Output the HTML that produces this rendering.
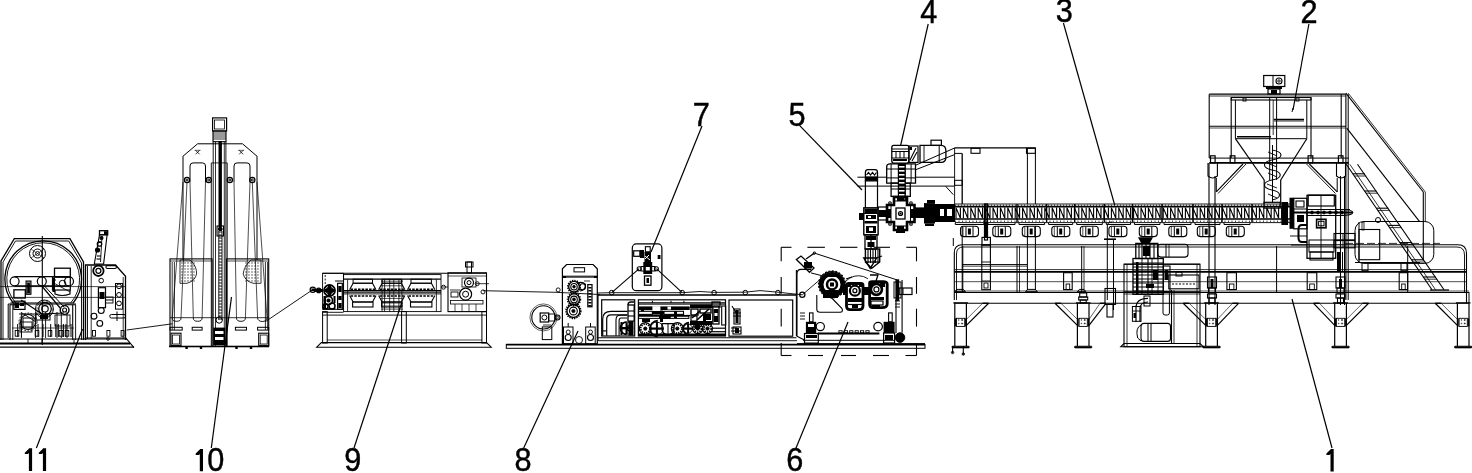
<!DOCTYPE html>
<html><head><meta charset="utf-8"><style>
html,body{margin:0;padding:0;background:#fff;}
body{width:1472px;height:473px;overflow:hidden;}
svg{display:block;filter:grayscale(1);}
text{font-family:"Liberation Sans",sans-serif;fill:#000;}
</style></head><body>
<svg width="1472" height="473" viewBox="0 0 1472 473" stroke-linecap="butt">
<rect width="1472" height="473" fill="#fff"/>
<path d="M28.90,448.2 L32.10,448.2 L32.10,470.9 L28.90,470.9 Z M29.40,448.2 L32.10,448.2 L32.10,451.0 L27.70,454.09999999999997 L24.80,454.09999999999997 L24.80,452.8 Z" fill="#000"/>
<path d="M42.90,448.2 L46.10,448.2 L46.10,470.9 L42.90,470.9 Z M43.40,448.2 L46.10,448.2 L46.10,451.0 L41.70,454.09999999999997 L38.80,454.09999999999997 L38.80,452.8 Z" fill="#000"/>
<path d="M199.80,449 L203.00,449 L203.00,471.2 L199.80,471.2 Z M200.30,449 L203.00,449 L203.00,451.8 L198.60,454.9 L195.70,454.9 L195.70,453.6 Z" fill="#000"/>
<text x="0" y="0" transform="translate(207.15,471.2) scale(0.95,1)" font-size="32.3" stroke="#000" stroke-width="0.45">0</text>
<path d="M1330.50,449 L1333.70,449 L1333.70,471.4 L1330.50,471.4 Z M1331.00,449 L1333.70,449 L1333.70,451.8 L1329.30,454.9 L1326.40,454.9 L1326.40,453.6 Z" fill="#000"/>
<text x="0" y="0" transform="translate(344.16,471.2) scale(0.95,1)" font-size="32.3" stroke="#000" stroke-width="0.45">9</text>
<text x="0" y="0" transform="translate(514.46,471.4) scale(0.95,1)" font-size="32.3" stroke="#000" stroke-width="0.45">8</text>
<text x="0" y="0" transform="translate(786.37,471.3) scale(0.95,1)" font-size="32.3" stroke="#000" stroke-width="0.45">6</text>
<text x="0" y="0" transform="translate(920.33,23.0) scale(0.95,1)" font-size="32.3" stroke="#000" stroke-width="0.45">4</text>
<text x="0" y="0" transform="translate(1055.75,22.4) scale(0.95,1)" font-size="32.3" stroke="#000" stroke-width="0.45">3</text>
<text x="0" y="0" transform="translate(1300.47,22.9) scale(0.95,1)" font-size="32.3" stroke="#000" stroke-width="0.45">2</text>
<text x="0" y="0" transform="translate(692.87,126.3) scale(0.95,1)" font-size="32.3" stroke="#000" stroke-width="0.45">7</text>
<text x="0" y="0" transform="translate(788.45,125.6) scale(0.95,1)" font-size="32.3" stroke="#000" stroke-width="0.45">5</text>
<line x1="36.4" y1="448.0" x2="82.5" y2="329.0" stroke="#000" stroke-width="1.2"/>
<line x1="211.3" y1="448.0" x2="231.5" y2="297.0" stroke="#000" stroke-width="1.2"/>
<line x1="354.0" y1="448.0" x2="401.6" y2="303.0" stroke="#000" stroke-width="1.2"/>
<line x1="523.7" y1="448.0" x2="578.0" y2="331.0" stroke="#000" stroke-width="1.2"/>
<line x1="795.6" y1="449.0" x2="848.0" y2="322.0" stroke="#000" stroke-width="1.2"/>
<line x1="1332.0" y1="448.0" x2="1292.0" y2="299.0" stroke="#000" stroke-width="1.2"/>
<line x1="928.2" y1="24.0" x2="900.5" y2="146.0" stroke="#000" stroke-width="1.2"/>
<line x1="1063.4" y1="23.0" x2="1114.7" y2="205.0" stroke="#000" stroke-width="1.2"/>
<line x1="1308.9" y1="24.0" x2="1293.0" y2="110.0" stroke="#000" stroke-width="1.2"/>
<line x1="702.0" y1="126.0" x2="651.0" y2="252.0" stroke="#000" stroke-width="1.2"/>
<line x1="799.5" y1="125.4" x2="862.0" y2="190.0" stroke="#000" stroke-width="1.2"/>
<path d="M1.0,340.0 L1.0,261.0 L14.3,238.7 L69.9,238.7 L83.5,262.0 L83.5,340.0" fill="none" stroke="#000" stroke-width="1.3" />
<path d="M3.0,340.0 L3.0,262.0 L15.5,241.0 L68.7,241.0 L81.5,263.0 L81.5,340.0" fill="none" stroke="#000" stroke-width="0.9" />
<path d="M13.2,303 A38.3,38.3 0 1,1 73.2,303" fill="none" stroke="#000" stroke-width="1.3" />
<path d="M15.7,303 A36.4,36.4 0 1,1 70.7,303" fill="none" stroke="#000" stroke-width="0.9" />
<line x1="42.3" y1="236.0" x2="42.3" y2="345.0" stroke="#000" stroke-width="1.1"/>
<circle cx="37.5" cy="253.5" r="8.0" fill="none" stroke="#000" stroke-width="1"/>
<circle cx="37.5" cy="253.5" r="4.5" fill="none" stroke="#000" stroke-width="1"/>
<circle cx="37.5" cy="253.5" r="2.0" fill="none" stroke="#000" stroke-width="0.8"/>
<path d="M31,249 L44,258 M31,258 L44,249" fill="none" stroke="#000" stroke-width="0.6" />
<circle cx="14.6" cy="281.3" r="4.5" fill="none" stroke="#000" stroke-width="1.2"/>
<circle cx="41.8" cy="281.3" r="4.5" fill="none" stroke="#000" stroke-width="1.2"/>
<circle cx="69.0" cy="281.3" r="4.5" fill="none" stroke="#000" stroke-width="1.2"/>
<line x1="14.6" y1="276.6" x2="69.0" y2="276.6" stroke="#000" stroke-width="1.3"/>
<line x1="14.6" y1="286.0" x2="69.0" y2="286.0" stroke="#000" stroke-width="1.3"/>
<rect x="26.0" y="281.0" width="5.0" height="13.2" rx="0" fill="none" stroke="#000" stroke-width="1.0"/>
<line x1="26.0" y1="282.0" x2="31.0" y2="282.0" stroke="#000" stroke-width="1.0"/>
<line x1="26.0" y1="284.0" x2="31.0" y2="284.0" stroke="#000" stroke-width="1.0"/>
<line x1="26.0" y1="286.0" x2="31.0" y2="286.0" stroke="#000" stroke-width="1.0"/>
<line x1="26.0" y1="288.0" x2="31.0" y2="288.0" stroke="#000" stroke-width="1.0"/>
<line x1="26.0" y1="290.0" x2="31.0" y2="290.0" stroke="#000" stroke-width="1.0"/>
<line x1="26.0" y1="292.0" x2="31.0" y2="292.0" stroke="#000" stroke-width="1.0"/>
<line x1="26.0" y1="294.0" x2="31.0" y2="294.0" stroke="#000" stroke-width="1.0"/>
<rect x="27.3" y="283.0" width="2.5" height="10.0" fill="#000"/>
<rect x="54.5" y="268.2" width="15.8" height="8.8" rx="0" fill="none" stroke="#000" stroke-width="1.3"/>
<rect x="52.5" y="277.0" width="17.8" height="13.0" rx="0" fill="none" stroke="#000" stroke-width="1.2"/>
<circle cx="62.5" cy="283.5" r="3.2" fill="none" stroke="#000" stroke-width="1.0"/>
<line x1="52.5" y1="280.0" x2="56.0" y2="280.0" stroke="#000" stroke-width="1.0"/>
<rect x="52.5" y="278.0" width="2.5" height="14.0" fill="#000"/>
<path d="M55,290 L55,294 Q62,297 70,294 L70,290" fill="none" stroke="#000" stroke-width="1.2" />
<line x1="52.0" y1="282.0" x2="70.0" y2="292.0" stroke="#000" stroke-width="0.8"/>
<rect x="13.9" y="289.8" width="11.4" height="8.2" rx="0" fill="none" stroke="#000" stroke-width="1.3"/>
<rect x="13.9" y="301.2" width="11.1" height="8.2" rx="0" fill="none" stroke="#000" stroke-width="1.2"/>
<rect x="15.0" y="302.5" width="4.0" height="5.5" fill="#000"/>
<rect x="20.0" y="303.0" width="4.0" height="3.0" fill="#000"/>
<line x1="10.0" y1="304.8" x2="10.0" y2="340.0" stroke="#000" stroke-width="1.1"/>
<line x1="12.8" y1="304.8" x2="12.8" y2="340.0" stroke="#000" stroke-width="0.9"/>
<line x1="72.7" y1="304.8" x2="72.7" y2="340.0" stroke="#000" stroke-width="1.1"/>
<line x1="75.6" y1="304.8" x2="75.6" y2="340.0" stroke="#000" stroke-width="0.9"/>
<line x1="10.0" y1="304.8" x2="21.0" y2="304.8" stroke="#000" stroke-width="0.9"/>
<line x1="65.0" y1="304.8" x2="75.6" y2="304.8" stroke="#000" stroke-width="0.9"/>
<line x1="21.4" y1="312.0" x2="21.4" y2="338.0" stroke="#000" stroke-width="0.9"/>
<line x1="35.6" y1="312.0" x2="35.6" y2="338.0" stroke="#000" stroke-width="0.9"/>
<line x1="45.6" y1="312.0" x2="45.6" y2="338.0" stroke="#000" stroke-width="0.9"/>
<line x1="57.0" y1="312.0" x2="57.0" y2="338.0" stroke="#000" stroke-width="0.9"/>
<line x1="61.3" y1="312.0" x2="61.3" y2="338.0" stroke="#000" stroke-width="0.9"/>
<line x1="67.0" y1="312.0" x2="67.0" y2="338.0" stroke="#000" stroke-width="0.9"/>
<rect x="15.2" y="330.5" width="3.6" height="5.7" rx="0" fill="none" stroke="#000" stroke-width="0.9"/>
<rect x="35.2" y="330.5" width="3.6" height="5.7" rx="0" fill="none" stroke="#000" stroke-width="0.9"/>
<rect x="48.2" y="330.5" width="3.6" height="5.7" rx="0" fill="none" stroke="#000" stroke-width="0.9"/>
<rect x="59.2" y="330.5" width="3.6" height="5.7" rx="0" fill="none" stroke="#000" stroke-width="0.9"/>
<rect x="65.2" y="330.5" width="3.6" height="5.7" rx="0" fill="none" stroke="#000" stroke-width="0.9"/>
<circle cx="45.0" cy="308.8" r="6.3" fill="none" stroke="#000" stroke-width="1.3"/>
<circle cx="45.0" cy="308.8" r="3.2" fill="none" stroke="#000" stroke-width="1.1"/>
<circle cx="64.6" cy="310.0" r="4.4" fill="none" stroke="#000" stroke-width="1.4"/>
<circle cx="64.6" cy="310.0" r="2.0" fill="none" stroke="#000" stroke-width="1.1"/>
<circle cx="45" cy="308.8" r="8" fill="none" stroke="#000" stroke-width="0.8" stroke-dasharray="2,1.5"/>
<circle cx="28.0" cy="322.0" r="7.5" fill="none" stroke="#000" stroke-width="1.1"/>
<circle cx="28" cy="322" r="9" fill="none" stroke="#000" stroke-width="0.9" stroke-dasharray="1.8,1.4"/>
<rect x="23.0" y="318.0" width="10.0" height="9.0" rx="0" fill="none" stroke="#000" stroke-width="1.0"/>
<line x1="19.0" y1="314.0" x2="36.8" y2="314.0" stroke="#000" stroke-width="0.9"/>
<line x1="17.7" y1="324.0" x2="17.7" y2="337.0" stroke="#000" stroke-width="1.0"/>
<line x1="21.5" y1="324.0" x2="21.5" y2="337.0" stroke="#000" stroke-width="1.0"/>
<line x1="38.0" y1="324.0" x2="38.0" y2="337.0" stroke="#000" stroke-width="1.0"/>
<line x1="43.0" y1="324.0" x2="43.0" y2="337.0" stroke="#000" stroke-width="1.0"/>
<line x1="50.7" y1="324.0" x2="50.7" y2="337.0" stroke="#000" stroke-width="1.0"/>
<line x1="55.8" y1="324.0" x2="55.8" y2="337.0" stroke="#000" stroke-width="1.0"/>
<line x1="58.3" y1="324.0" x2="58.3" y2="337.0" stroke="#000" stroke-width="1.0"/>
<line x1="63.4" y1="324.0" x2="63.4" y2="337.0" stroke="#000" stroke-width="1.0"/>
<line x1="65.9" y1="324.0" x2="65.9" y2="337.0" stroke="#000" stroke-width="1.0"/>
<line x1="71.0" y1="324.0" x2="71.0" y2="337.0" stroke="#000" stroke-width="1.0"/>
<line x1="8.2" y1="304.0" x2="76.0" y2="304.0" stroke="#000" stroke-width="1.0"/>
<circle cx="44.4" cy="309.0" r="9.0" fill="none" stroke="#000" stroke-width="0.9"/>
<line x1="8.2" y1="304.0" x2="8.2" y2="338.0" stroke="#000" stroke-width="1.0"/>
<line x1="41.8" y1="286.0" x2="61.0" y2="309.0" stroke="#000" stroke-width="1.2"/>
<line x1="44.5" y1="286.0" x2="64.0" y2="307.0" stroke="#000" stroke-width="1.0"/>
<line x1="21.0" y1="300.0" x2="42.0" y2="314.0" stroke="#000" stroke-width="1.1"/>
<line x1="42.0" y1="314.0" x2="64.0" y2="313.0" stroke="#000" stroke-width="1"/>
<line x1="22.0" y1="313.0" x2="36.0" y2="322.0" stroke="#000" stroke-width="0.9"/>
<rect x="36.0" y="314.0" width="14.0" height="6.0" rx="0" fill="none" stroke="#000" stroke-width="1"/>
<rect x="40.0" y="315.0" width="8.0" height="4.0" fill="#000"/>
<rect x="20.0" y="322.0" width="12.0" height="10.0" rx="0" fill="none" stroke="#000" stroke-width="0.9"/>
<rect x="55.0" y="315.0" width="15.0" height="11.0" rx="0" fill="none" stroke="#000" stroke-width="0.9"/>
<line x1="0.0" y1="286.6" x2="126.0" y2="286.6" stroke="#000" stroke-width="0.7"/>
<line x1="0.0" y1="297.4" x2="126.0" y2="297.4" stroke="#000" stroke-width="0.7"/>
<line x1="10.4" y1="302.9" x2="74.0" y2="302.9" stroke="#000" stroke-width="0.9"/>
<line x1="12.0" y1="328.0" x2="74.0" y2="328.0" stroke="#000" stroke-width="0.7"/>
<line x1="0.0" y1="339.0" x2="127.0" y2="339.0" stroke="#000" stroke-width="1.1"/>
<line x1="0.0" y1="343.5" x2="130.0" y2="343.5" stroke="#000" stroke-width="1.8"/>
<line x1="0.0" y1="347.2" x2="134.0" y2="347.2" stroke="#000" stroke-width="1.3"/>
<line x1="125.5" y1="337.6" x2="134.0" y2="347.6" stroke="#000" stroke-width="1.1"/>
<line x1="28.0" y1="339.0" x2="28.0" y2="343.0" stroke="#000" stroke-width="0.9"/>
<line x1="42.0" y1="339.0" x2="42.0" y2="343.0" stroke="#000" stroke-width="0.9"/>
<line x1="74.0" y1="339.0" x2="74.0" y2="343.0" stroke="#000" stroke-width="0.9"/>
<path d="M85.5,340.0 L85.5,265.0 L115.5,265.0 L125.5,276.3 L125.5,340.0" fill="none" stroke="#000" stroke-width="1.3" />
<line x1="87.5" y1="266.0" x2="87.5" y2="339.0" stroke="#000" stroke-width="0.9"/>
<line x1="91.2" y1="266.0" x2="91.2" y2="339.0" stroke="#000" stroke-width="0.8"/>
<line x1="123.2" y1="277.0" x2="123.2" y2="339.0" stroke="#000" stroke-width="0.8"/>
<line x1="86.0" y1="338.0" x2="126.0" y2="338.0" stroke="#000" stroke-width="1"/>
<path d="M94.3,264.0 L99.5,234.8 L107.1,234.8 L103.6,264.0 Z" fill="none" stroke="#000" stroke-width="1.1" />
<rect x="99.5" y="230.7" width="8.2" height="4.1" rx="0" fill="none" stroke="#000" stroke-width="1.3"/>
<rect x="104.0" y="231.2" width="3.2" height="3.1" fill="#000"/>
<circle cx="97.5" cy="250.0" r="2.0" fill="#000" stroke="#000" stroke-width="1.2"/>
<circle cx="99.5" cy="244.0" r="2.2" fill="none" stroke="#000" stroke-width="1.3"/>
<rect x="98.0" y="241.5" width="3.0" height="1.5" fill="#000"/>
<circle cx="101.5" cy="238.0" r="1.5" fill="#000" stroke="#000" stroke-width="1.1"/>
<line x1="97.0" y1="256.0" x2="101.0" y2="256.0" stroke="#000" stroke-width="1.1"/>
<line x1="96.5" y1="259.0" x2="100.5" y2="259.0" stroke="#000" stroke-width="1.1"/>
<path d="M102,236 L100.5,262" fill="none" stroke="#000" stroke-width="0.9" />
<circle cx="98.4" cy="270.8" r="5.2" fill="none" stroke="#000" stroke-width="1.8"/>
<circle cx="98.4" cy="270.8" r="2.5" fill="none" stroke="#000" stroke-width="1.2"/>
<rect x="105.9" y="265.6" width="10.5" height="2.9" rx="1.4" fill="none" stroke="#000" stroke-width="1.1"/>
<circle cx="101.2" cy="280.6" r="2.3" fill="none" stroke="#000" stroke-width="1"/>
<rect x="98.4" y="287.7" width="7.1" height="20.0" rx="0" fill="none" stroke="#000" stroke-width="1.2"/>
<rect x="99.5" y="292.0" width="5.0" height="7.0" fill="#000"/>
<line x1="105.5" y1="300.0" x2="113.0" y2="300.0" stroke="#000" stroke-width="1"/>
<rect x="105.5" y="297.0" width="7.5" height="6.0" rx="0" fill="none" stroke="#000" stroke-width="0.9"/>
<circle cx="101.2" cy="310.5" r="3.0" fill="none" stroke="#000" stroke-width="1.1"/>
<circle cx="94.0" cy="316.2" r="2.9" fill="none" stroke="#000" stroke-width="1.1"/>
<circle cx="99.8" cy="323.4" r="2.9" fill="none" stroke="#000" stroke-width="1.1"/>
<rect x="115.5" y="283.5" width="7.1" height="25.6" rx="0" fill="none" stroke="#000" stroke-width="1"/>
<circle cx="119.0" cy="286.3" r="2.4" fill="none" stroke="#000" stroke-width="1"/>
<circle cx="119.0" cy="294.9" r="2.4" fill="none" stroke="#000" stroke-width="1"/>
<circle cx="119.0" cy="303.4" r="2.4" fill="none" stroke="#000" stroke-width="1"/>
<rect x="109.8" y="314.5" width="15.7" height="3.5" rx="1.5" fill="none" stroke="#000" stroke-width="1"/>
<line x1="117.0" y1="311.5" x2="117.0" y2="321.0" stroke="#000" stroke-width="1"/>
<rect x="92.5" y="330.5" width="3.0" height="5.7" rx="0" fill="none" stroke="#000" stroke-width="0.9"/>
<rect x="106.9" y="330.5" width="3.0" height="5.7" rx="0" fill="none" stroke="#000" stroke-width="0.9"/>
<rect x="121.1" y="330.5" width="3.0" height="5.7" rx="0" fill="none" stroke="#000" stroke-width="0.9"/>
<circle cx="108.0" cy="339.0" r="1.3" fill="none" stroke="#000" stroke-width="0.9"/>
<line x1="126.8" y1="330.0" x2="172.3" y2="323.8" stroke="#000" stroke-width="0.9"/>
<rect x="212.6" y="117.9" width="14.0" height="13.1" rx="0" fill="none" stroke="#000" stroke-width="1.2"/>
<rect x="214.5" y="120.0" width="10.0" height="9.0" rx="0" fill="none" stroke="#000" stroke-width="0.8"/>
<rect x="213.0" y="131.0" width="13.0" height="10.7" rx="0" fill="none" stroke="#000" stroke-width="1.1"/>
<line x1="213.0" y1="133.0" x2="226.0" y2="133.0" stroke="#000" stroke-width="0.8"/>
<line x1="213.0" y1="135.0" x2="226.0" y2="135.0" stroke="#000" stroke-width="0.8"/>
<line x1="213.0" y1="137.0" x2="226.0" y2="137.0" stroke="#000" stroke-width="0.8"/>
<line x1="213.0" y1="139.0" x2="226.0" y2="139.0" stroke="#000" stroke-width="0.8"/>
<path d="M183.0,260.0 L183.0,156.2 L197.6,143.8 L242.5,143.8 L257.0,156.2 L257.0,260.0" fill="none" stroke="#000" stroke-width="1" />
<line x1="195.6" y1="150.3" x2="199.6" y2="154.3" stroke="#000" stroke-width="0.8"/>
<line x1="195.6" y1="154.3" x2="199.6" y2="150.3" stroke="#000" stroke-width="0.8"/>
<line x1="194.6" y1="150.3" x2="200.6" y2="150.3" stroke="#000" stroke-width="0.6"/>
<line x1="239.2" y1="150.3" x2="243.2" y2="154.3" stroke="#000" stroke-width="0.8"/>
<line x1="239.2" y1="154.3" x2="243.2" y2="150.3" stroke="#000" stroke-width="0.8"/>
<line x1="238.2" y1="150.3" x2="244.2" y2="150.3" stroke="#000" stroke-width="0.6"/>
<path d="M190,182 L190,166 Q190,162.9 193,162.9 L202.5,162.9 Q205.5,162.9 205.5,166 L205.5,182" fill="none" stroke="#000" stroke-width="1" />
<path d="M234,182 L234,166 Q234,162.9 237,162.9 L247,162.9 Q250,162.9 250,166 L250,182" fill="none" stroke="#000" stroke-width="1" />
<line x1="211.3" y1="162.9" x2="211.3" y2="346.0" stroke="#000" stroke-width="0.9"/>
<line x1="227.2" y1="162.9" x2="227.2" y2="346.0" stroke="#000" stroke-width="0.9"/>
<line x1="211.3" y1="162.9" x2="227.2" y2="162.9" stroke="#000" stroke-width="0.8"/>
<line x1="213.2" y1="141.7" x2="213.2" y2="346.0" stroke="#000" stroke-width="0.9"/>
<line x1="215.5" y1="141.7" x2="215.5" y2="346.0" stroke="#000" stroke-width="0.8"/>
<line x1="224.3" y1="141.7" x2="224.3" y2="346.0" stroke="#000" stroke-width="0.8"/>
<line x1="225.9" y1="141.7" x2="225.9" y2="346.0" stroke="#000" stroke-width="0.9"/>
<line x1="220.2" y1="141.0" x2="220.2" y2="231.0" stroke="#000" stroke-width="3.4"/>
<line x1="218.8" y1="231.0" x2="218.8" y2="320.0" stroke="#000" stroke-width="0.9"/>
<line x1="222.0" y1="231.0" x2="222.0" y2="320.0" stroke="#000" stroke-width="0.9"/>
<line x1="218.8" y1="232.0" x2="222.0" y2="232.0" stroke="#000" stroke-width="0.9"/>
<line x1="218.8" y1="235.0" x2="222.0" y2="235.0" stroke="#000" stroke-width="0.9"/>
<line x1="218.8" y1="238.0" x2="222.0" y2="238.0" stroke="#000" stroke-width="0.9"/>
<line x1="218.8" y1="241.0" x2="222.0" y2="241.0" stroke="#000" stroke-width="0.9"/>
<line x1="218.8" y1="244.0" x2="222.0" y2="244.0" stroke="#000" stroke-width="0.9"/>
<line x1="218.8" y1="247.0" x2="222.0" y2="247.0" stroke="#000" stroke-width="0.9"/>
<line x1="218.8" y1="250.0" x2="222.0" y2="250.0" stroke="#000" stroke-width="0.9"/>
<line x1="218.8" y1="253.0" x2="222.0" y2="253.0" stroke="#000" stroke-width="0.9"/>
<line x1="218.8" y1="256.0" x2="222.0" y2="256.0" stroke="#000" stroke-width="0.9"/>
<line x1="218.8" y1="259.0" x2="222.0" y2="259.0" stroke="#000" stroke-width="0.9"/>
<line x1="218.8" y1="262.0" x2="222.0" y2="262.0" stroke="#000" stroke-width="0.9"/>
<line x1="218.8" y1="265.0" x2="222.0" y2="265.0" stroke="#000" stroke-width="0.9"/>
<line x1="218.8" y1="268.0" x2="222.0" y2="268.0" stroke="#000" stroke-width="0.9"/>
<line x1="218.8" y1="271.0" x2="222.0" y2="271.0" stroke="#000" stroke-width="0.9"/>
<line x1="218.8" y1="274.0" x2="222.0" y2="274.0" stroke="#000" stroke-width="0.9"/>
<line x1="218.8" y1="277.0" x2="222.0" y2="277.0" stroke="#000" stroke-width="0.9"/>
<line x1="218.8" y1="280.0" x2="222.0" y2="280.0" stroke="#000" stroke-width="0.9"/>
<line x1="218.8" y1="283.0" x2="222.0" y2="283.0" stroke="#000" stroke-width="0.9"/>
<line x1="218.8" y1="286.0" x2="222.0" y2="286.0" stroke="#000" stroke-width="0.9"/>
<line x1="218.8" y1="289.0" x2="222.0" y2="289.0" stroke="#000" stroke-width="0.9"/>
<line x1="218.8" y1="292.0" x2="222.0" y2="292.0" stroke="#000" stroke-width="0.9"/>
<line x1="218.8" y1="295.0" x2="222.0" y2="295.0" stroke="#000" stroke-width="0.9"/>
<line x1="218.8" y1="298.0" x2="222.0" y2="298.0" stroke="#000" stroke-width="0.9"/>
<line x1="218.8" y1="301.0" x2="222.0" y2="301.0" stroke="#000" stroke-width="0.9"/>
<line x1="218.8" y1="304.0" x2="222.0" y2="304.0" stroke="#000" stroke-width="0.9"/>
<line x1="218.8" y1="307.0" x2="222.0" y2="307.0" stroke="#000" stroke-width="0.9"/>
<line x1="218.8" y1="310.0" x2="222.0" y2="310.0" stroke="#000" stroke-width="0.9"/>
<line x1="218.8" y1="313.0" x2="222.0" y2="313.0" stroke="#000" stroke-width="0.9"/>
<line x1="218.8" y1="316.0" x2="222.0" y2="316.0" stroke="#000" stroke-width="0.9"/>
<line x1="218.8" y1="319.0" x2="222.0" y2="319.0" stroke="#000" stroke-width="0.9"/>
<rect x="217.0" y="226.0" width="6.5" height="10.0" rx="0" fill="none" stroke="#000" stroke-width="1.1"/>
<rect x="218.0" y="228.0" width="4.5" height="2.0" fill="#000"/>
<circle cx="187.0" cy="180.0" r="2.6" fill="none" stroke="#000" stroke-width="1.3"/>
<circle cx="187.0" cy="180.0" r="1.0" fill="none" stroke="#000" stroke-width="1"/>
<circle cx="208.7" cy="180.0" r="2.6" fill="none" stroke="#000" stroke-width="1.3"/>
<circle cx="208.7" cy="180.0" r="1.0" fill="none" stroke="#000" stroke-width="1"/>
<circle cx="229.8" cy="180.0" r="2.6" fill="none" stroke="#000" stroke-width="1.3"/>
<circle cx="229.8" cy="180.0" r="1.0" fill="none" stroke="#000" stroke-width="1"/>
<circle cx="252.3" cy="180.0" r="2.6" fill="none" stroke="#000" stroke-width="1.3"/>
<circle cx="252.3" cy="180.0" r="1.0" fill="none" stroke="#000" stroke-width="1"/>
<line x1="183.0" y1="182.0" x2="172.2" y2="318.0" stroke="#000" stroke-width="0.7"/>
<line x1="187.0" y1="182.0" x2="181.0" y2="318.0" stroke="#000" stroke-width="0.7"/>
<path d="M172.2,318 A4.400000000000006,3.3000000000000043 0 0,0 181,318" fill="none" stroke="#000" stroke-width="0.9" />
<line x1="190.0" y1="182.0" x2="193.3" y2="318.0" stroke="#000" stroke-width="0.7"/>
<line x1="205.5" y1="182.0" x2="202.1" y2="318.0" stroke="#000" stroke-width="0.7"/>
<path d="M193.3,318 A4.3999999999999915,3.2999999999999936 0 0,0 202.1,318" fill="none" stroke="#000" stroke-width="0.9" />
<line x1="234.0" y1="182.0" x2="236.5" y2="318.0" stroke="#000" stroke-width="0.7"/>
<line x1="250.0" y1="182.0" x2="245.4" y2="318.0" stroke="#000" stroke-width="0.7"/>
<path d="M236.5,318 A4.450000000000003,3.337500000000002 0 0,0 245.4,318" fill="none" stroke="#000" stroke-width="0.9" />
<line x1="252.3" y1="182.0" x2="257.6" y2="318.0" stroke="#000" stroke-width="0.7"/>
<line x1="257.0" y1="182.0" x2="267.0" y2="318.0" stroke="#000" stroke-width="0.7"/>
<path d="M257.6,318 A4.699999999999989,3.5249999999999915 0 0,0 267,318" fill="none" stroke="#000" stroke-width="0.9" />
<circle cx="219.2" cy="320.0" r="3.2" fill="none" stroke="#000" stroke-width="1"/>
<rect x="170.0" y="258.9" width="42.1" height="87.6" rx="0" fill="none" stroke="#000" stroke-width="1.1"/>
<rect x="226.5" y="258.9" width="42.2" height="87.6" rx="0" fill="none" stroke="#000" stroke-width="1.1"/>
<line x1="172.2" y1="262.0" x2="172.2" y2="330.0" stroke="#000" stroke-width="0.8"/>
<line x1="174.4" y1="262.0" x2="174.4" y2="330.0" stroke="#000" stroke-width="0.8"/>
<line x1="265.4" y1="262.0" x2="265.4" y2="330.0" stroke="#000" stroke-width="0.8"/>
<line x1="267.6" y1="262.0" x2="267.6" y2="330.0" stroke="#000" stroke-width="0.8"/>
<line x1="170.0" y1="261.0" x2="212.0" y2="261.0" stroke="#000" stroke-width="0.7"/>
<line x1="227.0" y1="261.0" x2="268.0" y2="261.0" stroke="#000" stroke-width="0.7"/>
<line x1="170.0" y1="317.7" x2="268.7" y2="317.7" stroke="#000" stroke-width="0.8"/>
<rect x="192.2" y="327.3" width="9.9" height="2.8" rx="0" fill="none" stroke="#000" stroke-width="1.0"/>
<rect x="235.4" y="327.3" width="11.1" height="2.8" rx="0" fill="none" stroke="#000" stroke-width="1.0"/>
<rect x="170.0" y="327.3" width="12.2" height="2.8" rx="0" fill="none" stroke="#000" stroke-width="1.0"/>
<rect x="257.6" y="327.3" width="11.1" height="2.8" rx="0" fill="none" stroke="#000" stroke-width="1.0"/>
<rect x="171.0" y="333.2" width="10.0" height="12.2" rx="0" fill="none" stroke="#000" stroke-width="1.1"/>
<rect x="172.5" y="335.0" width="7.0" height="9.0" rx="0" fill="none" stroke="#000" stroke-width="0.8"/>
<rect x="258.7" y="333.2" width="10.0" height="12.2" rx="0" fill="none" stroke="#000" stroke-width="1.1"/>
<rect x="260.2" y="335.0" width="7.0" height="9.0" rx="0" fill="none" stroke="#000" stroke-width="0.8"/>
<rect x="213.2" y="327.6" width="12.2" height="17.8" fill="#000"/>
<rect x="215.0" y="331.0" width="8.5" height="3.0" fill="#fff"/>
<rect x="215.0" y="337.0" width="8.5" height="3.0" fill="#fff"/>
<line x1="169.0" y1="346.5" x2="269.0" y2="346.5" stroke="#000" stroke-width="1.4"/>
<rect x="185.4" y="346.0" width="2.4" height="3.0" fill="#000"/>
<rect x="199.8" y="346.0" width="2.4" height="3.0" fill="#000"/>
<rect x="235.3" y="346.0" width="2.4" height="3.0" fill="#000"/>
<rect x="249.8" y="346.0" width="2.4" height="3.0" fill="#000"/>
<path d="M180,260 L190,260 Q197,266 196.6,274 Q195,281 187,283.3 L180,283.3 Z" fill="none" stroke="#000" stroke-width="0.8" />
<path d="M261,260 L251,260 Q244,266 243.2,274 Q245,281 253,283.3 L261,283.3 Z" fill="none" stroke="#000" stroke-width="0.8" />
<circle cx="182.0" cy="263.0" r="0.3" fill="none" stroke="#000" stroke-width="0.7"/>
<circle cx="185.0" cy="263.0" r="0.3" fill="none" stroke="#000" stroke-width="0.7"/>
<circle cx="188.0" cy="263.0" r="0.3" fill="none" stroke="#000" stroke-width="0.7"/>
<circle cx="191.0" cy="263.0" r="0.3" fill="none" stroke="#000" stroke-width="0.7"/>
<circle cx="194.0" cy="263.0" r="0.3" fill="none" stroke="#000" stroke-width="0.7"/>
<circle cx="246.0" cy="263.0" r="0.3" fill="none" stroke="#000" stroke-width="0.7"/>
<circle cx="249.0" cy="263.0" r="0.3" fill="none" stroke="#000" stroke-width="0.7"/>
<circle cx="252.0" cy="263.0" r="0.3" fill="none" stroke="#000" stroke-width="0.7"/>
<circle cx="255.0" cy="263.0" r="0.3" fill="none" stroke="#000" stroke-width="0.7"/>
<circle cx="258.0" cy="263.0" r="0.3" fill="none" stroke="#000" stroke-width="0.7"/>
<circle cx="182.0" cy="266.0" r="0.3" fill="none" stroke="#000" stroke-width="0.7"/>
<circle cx="185.0" cy="266.0" r="0.3" fill="none" stroke="#000" stroke-width="0.7"/>
<circle cx="188.0" cy="266.0" r="0.3" fill="none" stroke="#000" stroke-width="0.7"/>
<circle cx="191.0" cy="266.0" r="0.3" fill="none" stroke="#000" stroke-width="0.7"/>
<circle cx="194.0" cy="266.0" r="0.3" fill="none" stroke="#000" stroke-width="0.7"/>
<circle cx="246.0" cy="266.0" r="0.3" fill="none" stroke="#000" stroke-width="0.7"/>
<circle cx="249.0" cy="266.0" r="0.3" fill="none" stroke="#000" stroke-width="0.7"/>
<circle cx="252.0" cy="266.0" r="0.3" fill="none" stroke="#000" stroke-width="0.7"/>
<circle cx="255.0" cy="266.0" r="0.3" fill="none" stroke="#000" stroke-width="0.7"/>
<circle cx="258.0" cy="266.0" r="0.3" fill="none" stroke="#000" stroke-width="0.7"/>
<circle cx="182.0" cy="269.0" r="0.3" fill="none" stroke="#000" stroke-width="0.7"/>
<circle cx="185.0" cy="269.0" r="0.3" fill="none" stroke="#000" stroke-width="0.7"/>
<circle cx="188.0" cy="269.0" r="0.3" fill="none" stroke="#000" stroke-width="0.7"/>
<circle cx="191.0" cy="269.0" r="0.3" fill="none" stroke="#000" stroke-width="0.7"/>
<circle cx="194.0" cy="269.0" r="0.3" fill="none" stroke="#000" stroke-width="0.7"/>
<circle cx="246.0" cy="269.0" r="0.3" fill="none" stroke="#000" stroke-width="0.7"/>
<circle cx="249.0" cy="269.0" r="0.3" fill="none" stroke="#000" stroke-width="0.7"/>
<circle cx="252.0" cy="269.0" r="0.3" fill="none" stroke="#000" stroke-width="0.7"/>
<circle cx="255.0" cy="269.0" r="0.3" fill="none" stroke="#000" stroke-width="0.7"/>
<circle cx="258.0" cy="269.0" r="0.3" fill="none" stroke="#000" stroke-width="0.7"/>
<circle cx="182.0" cy="272.0" r="0.3" fill="none" stroke="#000" stroke-width="0.7"/>
<circle cx="185.0" cy="272.0" r="0.3" fill="none" stroke="#000" stroke-width="0.7"/>
<circle cx="188.0" cy="272.0" r="0.3" fill="none" stroke="#000" stroke-width="0.7"/>
<circle cx="191.0" cy="272.0" r="0.3" fill="none" stroke="#000" stroke-width="0.7"/>
<circle cx="194.0" cy="272.0" r="0.3" fill="none" stroke="#000" stroke-width="0.7"/>
<circle cx="246.0" cy="272.0" r="0.3" fill="none" stroke="#000" stroke-width="0.7"/>
<circle cx="249.0" cy="272.0" r="0.3" fill="none" stroke="#000" stroke-width="0.7"/>
<circle cx="252.0" cy="272.0" r="0.3" fill="none" stroke="#000" stroke-width="0.7"/>
<circle cx="255.0" cy="272.0" r="0.3" fill="none" stroke="#000" stroke-width="0.7"/>
<circle cx="258.0" cy="272.0" r="0.3" fill="none" stroke="#000" stroke-width="0.7"/>
<circle cx="182.0" cy="275.0" r="0.3" fill="none" stroke="#000" stroke-width="0.7"/>
<circle cx="185.0" cy="275.0" r="0.3" fill="none" stroke="#000" stroke-width="0.7"/>
<circle cx="188.0" cy="275.0" r="0.3" fill="none" stroke="#000" stroke-width="0.7"/>
<circle cx="191.0" cy="275.0" r="0.3" fill="none" stroke="#000" stroke-width="0.7"/>
<circle cx="194.0" cy="275.0" r="0.3" fill="none" stroke="#000" stroke-width="0.7"/>
<circle cx="246.0" cy="275.0" r="0.3" fill="none" stroke="#000" stroke-width="0.7"/>
<circle cx="249.0" cy="275.0" r="0.3" fill="none" stroke="#000" stroke-width="0.7"/>
<circle cx="252.0" cy="275.0" r="0.3" fill="none" stroke="#000" stroke-width="0.7"/>
<circle cx="255.0" cy="275.0" r="0.3" fill="none" stroke="#000" stroke-width="0.7"/>
<circle cx="258.0" cy="275.0" r="0.3" fill="none" stroke="#000" stroke-width="0.7"/>
<circle cx="182.0" cy="278.0" r="0.3" fill="none" stroke="#000" stroke-width="0.7"/>
<circle cx="185.0" cy="278.0" r="0.3" fill="none" stroke="#000" stroke-width="0.7"/>
<circle cx="188.0" cy="278.0" r="0.3" fill="none" stroke="#000" stroke-width="0.7"/>
<circle cx="191.0" cy="278.0" r="0.3" fill="none" stroke="#000" stroke-width="0.7"/>
<circle cx="194.0" cy="278.0" r="0.3" fill="none" stroke="#000" stroke-width="0.7"/>
<circle cx="246.0" cy="278.0" r="0.3" fill="none" stroke="#000" stroke-width="0.7"/>
<circle cx="249.0" cy="278.0" r="0.3" fill="none" stroke="#000" stroke-width="0.7"/>
<circle cx="252.0" cy="278.0" r="0.3" fill="none" stroke="#000" stroke-width="0.7"/>
<circle cx="255.0" cy="278.0" r="0.3" fill="none" stroke="#000" stroke-width="0.7"/>
<circle cx="258.0" cy="278.0" r="0.3" fill="none" stroke="#000" stroke-width="0.7"/>
<circle cx="182.0" cy="281.0" r="0.3" fill="none" stroke="#000" stroke-width="0.7"/>
<circle cx="185.0" cy="281.0" r="0.3" fill="none" stroke="#000" stroke-width="0.7"/>
<circle cx="188.0" cy="281.0" r="0.3" fill="none" stroke="#000" stroke-width="0.7"/>
<circle cx="191.0" cy="281.0" r="0.3" fill="none" stroke="#000" stroke-width="0.7"/>
<circle cx="194.0" cy="281.0" r="0.3" fill="none" stroke="#000" stroke-width="0.7"/>
<circle cx="246.0" cy="281.0" r="0.3" fill="none" stroke="#000" stroke-width="0.7"/>
<circle cx="249.0" cy="281.0" r="0.3" fill="none" stroke="#000" stroke-width="0.7"/>
<circle cx="252.0" cy="281.0" r="0.3" fill="none" stroke="#000" stroke-width="0.7"/>
<circle cx="255.0" cy="281.0" r="0.3" fill="none" stroke="#000" stroke-width="0.7"/>
<circle cx="258.0" cy="281.0" r="0.3" fill="none" stroke="#000" stroke-width="0.7"/>
<line x1="265.3" y1="321.7" x2="313.0" y2="289.5" stroke="#000" stroke-width="0.9"/>
<line x1="322.6" y1="273.3" x2="486.5" y2="273.3" stroke="#000" stroke-width="1.1"/>
<rect x="322.6" y="273.3" width="20.9" height="36.0" rx="0" fill="none" stroke="#000" stroke-width="0.9"/>
<line x1="322.6" y1="312.3" x2="343.5" y2="312.3" stroke="#000" stroke-width="0.9"/>
<path d="M325.2,275 L325.2,284" fill="none" stroke="#000" stroke-width="0.9" stroke-dasharray="2,1.5"/>
<circle cx="329.5" cy="290.5" r="5.5" fill="none" stroke="#000" stroke-width="1.8"/>
<circle cx="329.5" cy="290.5" r="3.0" fill="none" stroke="#000" stroke-width="1.5"/>
<rect x="328.0" y="286.0" width="3.0" height="9.0" fill="#000"/>
<rect x="325.0" y="289.0" width="9.0" height="3.0" fill="#000"/>
<circle cx="328.5" cy="300.5" r="4.0" fill="none" stroke="#000" stroke-width="1.6"/>
<circle cx="328.5" cy="300.5" r="1.5" fill="#000" stroke="#000" stroke-width="1.2"/>
<circle cx="332.0" cy="306.0" r="3.0" fill="none" stroke="#000" stroke-width="1.5"/>
<circle cx="325.5" cy="306.5" r="2.5" fill="none" stroke="#000" stroke-width="1.4"/>
<rect x="323.5" y="296.0" width="2.5" height="13.0" fill="#000"/>
<rect x="333.5" y="296.0" width="2.0" height="7.0" fill="#000"/>
<line x1="323.0" y1="309.0" x2="335.5" y2="309.0" stroke="#000" stroke-width="1.4"/>
<rect x="337.6" y="283.3" width="4.7" height="26.0" rx="0" fill="none" stroke="#000" stroke-width="1.2"/>
<rect x="338.3" y="286.0" width="3.3" height="6.0" fill="#000"/>
<rect x="338.3" y="296.0" width="3.3" height="4.0" fill="#000"/>
<rect x="338.3" y="303.0" width="3.3" height="5.0" fill="#000"/>
<line x1="335.0" y1="281.0" x2="343.5" y2="281.0" stroke="#000" stroke-width="1.0"/>
<circle cx="312.8" cy="289.8" r="2.6" fill="none" stroke="#000" stroke-width="1.3"/>
<rect x="311.5" y="288.5" width="2.5" height="2.5" fill="#000"/>
<circle cx="318.7" cy="290.4" r="2.2" fill="none" stroke="#000" stroke-width="1.2"/>
<rect x="314.0" y="289.0" width="9.0" height="3.0" fill="#000"/>
<rect x="343.6" y="274.6" width="97.4" height="37.0" rx="0" fill="none" stroke="#000" stroke-width="0.9"/>
<line x1="343.6" y1="279.2" x2="441.0" y2="279.2" stroke="#000" stroke-width="1.3"/>
<line x1="347.6" y1="279.2" x2="347.6" y2="311.6" stroke="#000" stroke-width="0.8"/>
<line x1="436.4" y1="279.2" x2="436.4" y2="311.6" stroke="#000" stroke-width="0.8"/>
<line x1="343.6" y1="290.8" x2="441.0" y2="290.8" stroke="#000" stroke-width="1.5"/>
<line x1="343.6" y1="292.4" x2="441.0" y2="292.4" stroke="#000" stroke-width="0.8"/>
<line x1="343.6" y1="293.9" x2="441.0" y2="293.9" stroke="#000" stroke-width="0.9"/>
<path d="M349.6,289.8 L353.1,283.2 L372.5,283.2 L376.0,289.8" fill="none" stroke="#000" stroke-width="1.1" />
<rect x="353.1" y="279.2" width="19.4" height="4.0" rx="0" fill="none" stroke="#000" stroke-width="1.0"/>
<line x1="350.6" y1="289.3" x2="375" y2="289.3" stroke="#000" stroke-width="1.6" stroke-dasharray="2.5,1.2"/>
<path d="M349.6,295.4 L353.1,302.0 L372.5,302.0 L376.0,295.4" fill="none" stroke="#000" stroke-width="1.1" />
<line x1="350.6" y1="296" x2="375" y2="296" stroke="#000" stroke-width="1.6" stroke-dasharray="2.5,1.2"/>
<rect x="352.6" y="302.0" width="20.4" height="5.0" rx="0" fill="none" stroke="#000" stroke-width="1.1"/>
<path d="M378.6,289.8 L382.1,283.2 L401.4,283.2 L404.9,289.8" fill="none" stroke="#000" stroke-width="1.1" />
<rect x="382.1" y="279.2" width="19.3" height="4.0" rx="0" fill="none" stroke="#000" stroke-width="1.0"/>
<line x1="379.6" y1="289.3" x2="403.9" y2="289.3" stroke="#000" stroke-width="1.6" stroke-dasharray="2.5,1.2"/>
<path d="M378.6,295.4 L382.1,302.0 L401.4,302.0 L404.9,295.4" fill="none" stroke="#000" stroke-width="1.1" />
<line x1="379.6" y1="296" x2="403.9" y2="296" stroke="#000" stroke-width="1.6" stroke-dasharray="2.5,1.2"/>
<rect x="381.6" y="302.0" width="20.3" height="5.0" rx="0" fill="none" stroke="#000" stroke-width="1.1"/>
<path d="M407.5,289.8 L411.0,283.2 L431.4,283.2 L434.9,289.8" fill="none" stroke="#000" stroke-width="1.1" />
<rect x="411.0" y="279.2" width="20.4" height="4.0" rx="0" fill="none" stroke="#000" stroke-width="1.0"/>
<line x1="408.5" y1="289.3" x2="433.9" y2="289.3" stroke="#000" stroke-width="1.6" stroke-dasharray="2.5,1.2"/>
<path d="M407.5,295.4 L411.0,302.0 L431.4,302.0 L434.9,295.4" fill="none" stroke="#000" stroke-width="1.1" />
<line x1="408.5" y1="296" x2="433.9" y2="296" stroke="#000" stroke-width="1.6" stroke-dasharray="2.5,1.2"/>
<rect x="410.5" y="302.0" width="21.4" height="5.0" rx="0" fill="none" stroke="#000" stroke-width="1.1"/>
<line x1="382.1" y1="279.2" x2="382.1" y2="311.6" stroke="#000" stroke-width="0.8"/>
<line x1="384.6" y1="279.2" x2="384.6" y2="311.6" stroke="#000" stroke-width="0.8"/>
<line x1="389.7" y1="279.2" x2="389.7" y2="311.6" stroke="#000" stroke-width="0.8"/>
<line x1="393.8" y1="279.2" x2="393.8" y2="311.6" stroke="#000" stroke-width="0.8"/>
<line x1="398.9" y1="279.2" x2="398.9" y2="311.6" stroke="#000" stroke-width="0.8"/>
<line x1="401.9" y1="279.2" x2="401.9" y2="311.6" stroke="#000" stroke-width="0.8"/>
<line x1="381.0" y1="281.2" x2="403.0" y2="281.2" stroke="#000" stroke-width="0.7"/>
<line x1="381.0" y1="285.8" x2="403.0" y2="285.8" stroke="#000" stroke-width="0.7"/>
<line x1="381.0" y1="298.4" x2="403.0" y2="298.4" stroke="#000" stroke-width="0.7"/>
<line x1="381.0" y1="303.0" x2="403.0" y2="303.0" stroke="#000" stroke-width="0.7"/>
<line x1="381.0" y1="306.0" x2="403.0" y2="306.0" stroke="#000" stroke-width="0.7"/>
<line x1="381.0" y1="309.1" x2="403.0" y2="309.1" stroke="#000" stroke-width="0.7"/>
<line x1="441.2" y1="287.0" x2="448.0" y2="287.0" stroke="#000" stroke-width="0.8"/>
<circle cx="443.5" cy="287.2" r="2.0" fill="none" stroke="#000" stroke-width="0.9"/>
<rect x="448.0" y="272.8" width="38.5" height="38.8" rx="0" fill="none" stroke="#000" stroke-width="1.1"/>
<line x1="448.0" y1="276.0" x2="486.5" y2="276.0" stroke="#000" stroke-width="0.7"/>
<rect x="467.0" y="262.0" width="4.5" height="11.0" rx="0" fill="none" stroke="#000" stroke-width="1"/>
<rect x="465.5" y="262.0" width="7.5" height="5.0" rx="0" fill="none" stroke="#000" stroke-width="1"/>
<circle cx="469.0" cy="282.6" r="4.5" fill="none" stroke="#000" stroke-width="1.2"/>
<circle cx="469.0" cy="282.6" r="2.0" fill="none" stroke="#000" stroke-width="1"/>
<rect x="462.0" y="278.0" width="14.0" height="9.0" rx="0" fill="none" stroke="#000" stroke-width="0.8"/>
<circle cx="465.6" cy="294.2" r="6.0" fill="none" stroke="#000" stroke-width="1.2"/>
<circle cx="465.6" cy="294.2" r="3.0" fill="none" stroke="#000" stroke-width="1"/>
<circle cx="477.2" cy="283.7" r="2.0" fill="none" stroke="#000" stroke-width="0.9"/>
<circle cx="483.0" cy="291.9" r="2.0" fill="none" stroke="#000" stroke-width="0.9"/>
<line x1="450.0" y1="290.0" x2="460.0" y2="290.0" stroke="#000" stroke-width="0.8"/>
<rect x="451.0" y="292.0" width="7.0" height="5.0" rx="0" fill="none" stroke="#000" stroke-width="0.9"/>
<rect x="450.5" y="300.5" width="32.5" height="3.5" rx="0" fill="none" stroke="#000" stroke-width="0.8"/>
<line x1="455.0" y1="304.0" x2="455.0" y2="311.0" stroke="#000" stroke-width="0.7"/>
<line x1="462.0" y1="304.0" x2="462.0" y2="311.0" stroke="#000" stroke-width="0.7"/>
<line x1="469.0" y1="304.0" x2="469.0" y2="311.0" stroke="#000" stroke-width="0.7"/>
<line x1="476.0" y1="304.0" x2="476.0" y2="311.0" stroke="#000" stroke-width="0.7"/>
<line x1="476.0" y1="283.7" x2="489.0" y2="283.7" stroke="#000" stroke-width="0.8"/>
<line x1="322.6" y1="315.1" x2="486.5" y2="315.1" stroke="#000" stroke-width="0.9"/>
<rect x="322.6" y="311.6" width="4.6" height="31.4" rx="0" fill="none" stroke="#000" stroke-width="1"/>
<rect x="401.6" y="311.6" width="4.7" height="31.4" rx="0" fill="none" stroke="#000" stroke-width="1"/>
<rect x="481.9" y="311.6" width="4.6" height="31.4" rx="0" fill="none" stroke="#000" stroke-width="1"/>
<line x1="327.0" y1="340.0" x2="482.0" y2="340.0" stroke="#000" stroke-width="0.7"/>
<path d="M321.4,342.6 L486.5,342.6 L491.2,347.2 L316.7,347.2 Z" fill="none" stroke="#000" stroke-width="1.1" />
<line x1="483.0" y1="290.7" x2="556.0" y2="292.3" stroke="#000" stroke-width="0.9"/>
<path d="M562.4,343.9 L562.4,268.8 L566.6,264.5 L593.1,264.5 L597.3,268.8 L597.3,343.9 Z" fill="none" stroke="#000" stroke-width="1.2" />
<line x1="562.4" y1="276.2" x2="597.3" y2="276.2" stroke="#000" stroke-width="1"/>
<rect x="574.0" y="267.7" width="10.6" height="4.2" rx="0" fill="none" stroke="#000" stroke-width="1"/>
<circle cx="574.0" cy="286.7" r="5.3" fill="none" stroke="#000" stroke-width="1.4"/>
<circle cx="574.0" cy="286.7" r="3.2" fill="none" stroke="#000" stroke-width="1.1"/>
<circle cx="574.0" cy="286.7" r="1.3" fill="#000" stroke="#000" stroke-width="0.9"/>
<circle cx="574" cy="286.7" r="6.2" fill="none" stroke="#000" stroke-width="1.6" stroke-dasharray="1.3,1.1"/>
<circle cx="574.0" cy="299.4" r="5.5" fill="none" stroke="#000" stroke-width="1.4"/>
<circle cx="574.0" cy="299.4" r="3.3" fill="none" stroke="#000" stroke-width="1.1"/>
<circle cx="574.0" cy="299.4" r="1.4" fill="#000" stroke="#000" stroke-width="0.9"/>
<circle cx="574" cy="299.4" r="6.4" fill="none" stroke="#000" stroke-width="1.6" stroke-dasharray="1.3,1.1"/>
<circle cx="573.4" cy="311.0" r="6.5" fill="none" stroke="#000" stroke-width="1.4"/>
<circle cx="573.4" cy="311.0" r="3.9" fill="none" stroke="#000" stroke-width="1.1"/>
<circle cx="573.4" cy="311.0" r="1.6" fill="#000" stroke="#000" stroke-width="0.9"/>
<circle cx="573.4" cy="311" r="7.4" fill="none" stroke="#000" stroke-width="1.6" stroke-dasharray="1.3,1.1"/>
<line x1="562.4" y1="277.2" x2="597.3" y2="277.2" stroke="#000" stroke-width="0.9"/>
<rect x="563.0" y="276.0" width="3.0" height="2.0" fill="#000"/>
<rect x="594.0" y="276.0" width="3.0" height="2.0" fill="#000"/>
<path d="M577,283 Q582.5,281 585.5,284.5 Q586,290 580,291" fill="none" stroke="#000" stroke-width="1.2" />
<circle cx="582.5" cy="286.7" r="3.0" fill="none" stroke="#000" stroke-width="1.1"/>
<rect x="587.8" y="284.6" width="4.2" height="22.2" rx="0" fill="none" stroke="#000" stroke-width="1.2"/>
<rect x="588.3" y="287.0" width="3.2" height="1.5" fill="#000"/>
<rect x="588.3" y="290.0" width="3.2" height="1.5" fill="#000"/>
<rect x="588.3" y="293.0" width="3.2" height="1.5" fill="#000"/>
<rect x="588.3" y="296.0" width="3.2" height="1.5" fill="#000"/>
<rect x="588.3" y="299.0" width="3.2" height="1.5" fill="#000"/>
<rect x="588.3" y="302.0" width="3.2" height="1.5" fill="#000"/>
<rect x="588.3" y="305.0" width="3.2" height="1.5" fill="#000"/>
<line x1="584.0" y1="281.0" x2="590.0" y2="281.0" stroke="#000" stroke-width="0.8"/>
<circle cx="543.4" cy="317.4" r="11.6" fill="none" stroke="#000" stroke-width="1.1"/>
<circle cx="543.4" cy="317.4" r="13.5" fill="none" stroke="#000" stroke-width="0.6"/>
<rect x="540.2" y="313.0" width="8.5" height="9.0" rx="0" fill="none" stroke="#000" stroke-width="1.2"/>
<circle cx="544.4" cy="317.5" r="2.5" fill="none" stroke="#000" stroke-width="1"/>
<rect x="548.7" y="314.0" width="6.3" height="7.0" rx="0" fill="none" stroke="#000" stroke-width="0.9"/>
<circle cx="557.5" cy="317.5" r="2.5" fill="none" stroke="#000" stroke-width="1.1"/>
<circle cx="557.5" cy="317.5" r="1.2" fill="none" stroke="#000" stroke-width="0.8"/>
<rect x="542.3" y="326.9" width="9.5" height="12.7" rx="0" fill="none" stroke="#000" stroke-width="1"/>
<line x1="543.0" y1="325.0" x2="551.0" y2="325.0" stroke="#000" stroke-width="0.8"/>
<rect x="563.5" y="327.0" width="9.5" height="16.9" rx="0" fill="none" stroke="#000" stroke-width="1"/>
<circle cx="568.2" cy="337.5" r="3.0" fill="none" stroke="#000" stroke-width="1.1"/>
<circle cx="568.2" cy="332.0" r="2.0" fill="none" stroke="#000" stroke-width="0.9"/>
<line x1="568.2" y1="327.0" x2="568.2" y2="323.0" stroke="#000" stroke-width="1"/>
<rect x="585.7" y="327.0" width="9.5" height="16.9" rx="0" fill="none" stroke="#000" stroke-width="1"/>
<circle cx="590.5" cy="337.5" r="3.0" fill="none" stroke="#000" stroke-width="1.1"/>
<circle cx="590.5" cy="332.0" r="2.0" fill="none" stroke="#000" stroke-width="0.9"/>
<line x1="590.5" y1="327.0" x2="590.5" y2="323.0" stroke="#000" stroke-width="1"/>
<circle cx="579.0" cy="340.0" r="3.5" fill="none" stroke="#000" stroke-width="0.9"/>
<rect x="506.3" y="344.5" width="418.7" height="3.8" rx="0" fill="none" stroke="#000" stroke-width="1"/>
<line x1="506.3" y1="344.6" x2="925.0" y2="344.6" stroke="#000" stroke-width="1.6"/>
<circle cx="558.2" cy="289.9" r="2.0" fill="none" stroke="#000" stroke-width="0.9"/>
<line x1="556.0" y1="292.3" x2="600.0" y2="294.5" stroke="#000" stroke-width="0.9"/>
<rect x="632.3" y="243.9" width="29.6" height="46.8" rx="4" fill="none" stroke="#000" stroke-width="1.2"/>
<rect x="644.5" y="252.0" width="6.5" height="10.0" fill="#000"/>
<rect x="643.3" y="262.0" width="8.9" height="12.0" fill="#000"/>
<rect x="644.5" y="276.0" width="6.5" height="9.2" rx="0" fill="none" stroke="#000" stroke-width="1.3"/>
<rect x="645.8" y="266.0" width="4.0" height="5.0" fill="#fff"/>
<rect x="646.5" y="278.0" width="2.5" height="5.0" fill="#000"/>
<path d="M645,256 L650,260 M645,259 L649,255" fill="none" stroke="#fff" stroke-width="1.0" />
<rect x="645.4" y="246.7" width="4.8" height="5.1" rx="0" fill="none" stroke="#000" stroke-width="1.1"/>
<rect x="633.7" y="250.8" width="6.2" height="5.5" rx="0" fill="none" stroke="#000" stroke-width="1.2"/>
<rect x="639.9" y="250.0" width="4.1" height="8.0" fill="#000"/>
<rect x="657.7" y="255.0" width="2.8" height="4.0" fill="#000"/>
<rect x="641.0" y="266.5" width="14.0" height="4.5" rx="0" fill="none" stroke="#000" stroke-width="1"/>
<circle cx="639.2" cy="268.7" r="2.0" fill="none" stroke="#000" stroke-width="1.1"/>
<circle cx="656.4" cy="268.7" r="2.0" fill="none" stroke="#000" stroke-width="1.1"/>
<line x1="639.2" y1="268.7" x2="611.7" y2="292.7" stroke="#000" stroke-width="1.1"/>
<line x1="656.4" y1="268.7" x2="682.2" y2="292.7" stroke="#000" stroke-width="1.1"/>
<path d="M597.0,293.0 L611.7,292.7 L682.2,292.7 L700.0,291.5 L714.1,292.4 L745.3,292.2 L760.0,290.6 L777.9,292.2 L802.3,294.8 L823.7,276.4" fill="none" stroke="#000" stroke-width="0.9" />
<circle cx="611.7" cy="292.6" r="2.3" fill="none" stroke="#000" stroke-width="1"/>
<circle cx="682.2" cy="292.6" r="2.3" fill="none" stroke="#000" stroke-width="1"/>
<circle cx="714.1" cy="292.6" r="2.3" fill="none" stroke="#000" stroke-width="1"/>
<circle cx="745.3" cy="292.6" r="2.3" fill="none" stroke="#000" stroke-width="1"/>
<circle cx="777.9" cy="292.6" r="2.3" fill="none" stroke="#000" stroke-width="1"/>
<circle cx="802.3" cy="294.8" r="2.6" fill="none" stroke="#000" stroke-width="1.3"/>
<line x1="597.2" y1="295.0" x2="796.4" y2="295.0" stroke="#000" stroke-width="1.4"/>
<line x1="598.0" y1="295.0" x2="598.0" y2="340.7" stroke="#000" stroke-width="1.1"/>
<line x1="796.4" y1="270.0" x2="796.4" y2="336.2" stroke="#000" stroke-width="1.1"/>
<line x1="598.0" y1="337.7" x2="796.4" y2="337.7" stroke="#000" stroke-width="1.1"/>
<line x1="598.0" y1="340.7" x2="797.0" y2="340.7" stroke="#000" stroke-width="0.9"/>
<rect x="601.7" y="299.8" width="33.0" height="36.2" rx="0" fill="none" stroke="#000" stroke-width="1.2"/>
<rect x="638.4" y="299.8" width="87.1" height="36.2" rx="0" fill="none" stroke="#000" stroke-width="1.2"/>
<rect x="729.0" y="300.0" width="63.7" height="36.2" rx="0" fill="none" stroke="#000" stroke-width="1.2"/>
<path d="M627.5,311.3 L611,311.3 Q602.7,311.3 602.7,319 L602.7,335.7 M627.5,314.9 L611,314.9 Q606.7,314.9 606.7,319 L606.7,335.7" fill="none" stroke="#000" stroke-width="1.2" />
<line x1="602.7" y1="330.9" x2="606.7" y2="330.9" stroke="#000" stroke-width="1.1"/>
<path d="M627,315.3 L620,315.3 Q616,315.3 616,320 L616,335.7 M627,318 L621,318 Q619.1,318 619.1,321 L619.1,335.7" fill="none" stroke="#000" stroke-width="1.1" />
<path d="M626.6,322 A6.2,6.2 0 1,0 626.6,334.4" fill="none" stroke="#000" stroke-width="1.6" />
<circle cx="626.6" cy="328.2" r="6.2" fill="none" stroke="#000" stroke-width="0.8"/>
<rect x="622.0" y="327.0" width="10.0" height="2.4" fill="#000"/>
<rect x="625.5" y="322.5" width="2.2" height="11.5" fill="#000"/>
<circle cx="629.5" cy="328.2" r="2.5" fill="none" stroke="#000" stroke-width="1.3"/>
<rect x="628.0" y="305.0" width="6.2" height="16.1" rx="0" fill="none" stroke="#000" stroke-width="1.3"/>
<line x1="628.0" y1="311.0" x2="634.2" y2="311.0" stroke="#000" stroke-width="1.1"/>
<line x1="628.0" y1="316.0" x2="634.2" y2="316.0" stroke="#000" stroke-width="1.1"/>
<path d="M628,305 Q628,302 631,302 L634.2,302" fill="none" stroke="#000" stroke-width="1.3" />
<rect x="628.5" y="321.1" width="5.0" height="14.6" fill="#000"/>
<rect x="620.5" y="322.0" width="2.0" height="13.0" fill="#000"/>
<line x1="638.6" y1="302.9" x2="725.7" y2="302.9" stroke="#000" stroke-width="1.1"/>
<line x1="638.6" y1="304.2" x2="725.7" y2="304.2" stroke="#000" stroke-width="0.9"/>
<line x1="652.4" y1="300.7" x2="652.4" y2="302.9" stroke="#000" stroke-width="1"/>
<line x1="671.0" y1="300.7" x2="671.0" y2="302.9" stroke="#000" stroke-width="1"/>
<line x1="683.9" y1="300.7" x2="683.9" y2="302.9" stroke="#000" stroke-width="1"/>
<rect x="638.6" y="306.4" width="51.1" height="3.6" fill="#000"/>
<rect x="652.4" y="306.2" width="8.0" height="5.3" fill="#fff"/>
<rect x="667.5" y="306.6" width="3.5" height="2.9" fill="#fff"/>
<rect x="638.6" y="311.3" width="13.8" height="3.1" rx="0" fill="none" stroke="#000" stroke-width="1.1"/>
<rect x="664.0" y="311.3" width="19.5" height="3.1" rx="0" fill="none" stroke="#000" stroke-width="1.1"/>
<rect x="652.4" y="311.0" width="11.6" height="3.6" fill="#000"/>
<rect x="641.0" y="310.0" width="3.0" height="1.3" fill="#000"/>
<rect x="638.6" y="314.9" width="51.4" height="1.3" fill="#000"/>
<rect x="638.6" y="316.2" width="20.9" height="2.2" rx="0" fill="none" stroke="#000" stroke-width="1.0"/>
<rect x="670.2" y="316.2" width="18.6" height="2.2" rx="0" fill="none" stroke="#000" stroke-width="1.0"/>
<rect x="659.5" y="316.0" width="10.7" height="3.0" fill="#000"/>
<rect x="660.0" y="310.5" width="3.0" height="11.5" fill="#000"/>
<rect x="674.0" y="311.0" width="3.0" height="7.0" fill="#000"/>
<rect x="690.0" y="304.5" width="22.0" height="3.5" fill="#000"/>
<rect x="691.0" y="309.0" width="7.0" height="6.0" rx="0" fill="none" stroke="#000" stroke-width="1.4"/>
<rect x="700.0" y="309.0" width="11.0" height="4.0" rx="0" fill="none" stroke="#000" stroke-width="1.4"/>
<rect x="703.0" y="313.0" width="3.0" height="8.0" fill="#000"/>
<path d="M692,318 L700,311 M697,320 L709,309" fill="none" stroke="#000" stroke-width="1.6" />
<rect x="691.0" y="316.0" width="6.0" height="5.0" rx="0" fill="none" stroke="#000" stroke-width="1.2"/>
<rect x="706.0" y="314.0" width="5.0" height="6.0" fill="#000"/>
<rect x="712.8" y="306.0" width="6.2" height="18.0" rx="0" fill="none" stroke="#000" stroke-width="1.3"/>
<rect x="713.5" y="309.0" width="4.8" height="13.0" fill="#000"/>
<rect x="714.5" y="313.0" width="3.0" height="3.0" fill="#fff"/>
<rect x="712.0" y="302.0" width="8.0" height="5.0" rx="0" fill="none" stroke="#000" stroke-width="1.3"/>
<rect x="721.7" y="306.0" width="4.0" height="19.0" rx="0" fill="none" stroke="#000" stroke-width="1.1"/>
<line x1="711.9" y1="328.2" x2="725.7" y2="328.2" stroke="#000" stroke-width="1.2"/>
<line x1="711.9" y1="331.7" x2="725.7" y2="331.7" stroke="#000" stroke-width="1.2"/>
<rect x="642.0" y="319.0" width="8.0" height="3.0" fill="#000"/>
<rect x="690.0" y="321.0" width="22.0" height="4.0" fill="#000"/>
<rect x="695.0" y="325.0" width="5.0" height="4.0" fill="#000"/>
<circle cx="645.3" cy="328.6" r="6.0" fill="none" stroke="#000" stroke-width="1.2"/>
<circle cx="645.3" cy="328.6" r="4.6" fill="none" stroke="#000" stroke-width="1.8" stroke-dasharray="1.4,1.0"/>
<circle cx="645.3" cy="328.6" r="1.6" fill="#000" stroke="#000" stroke-width="1"/>
<path d="M657.8,320.6 A8,8 0 1,0 657.8,336.6" fill="none" stroke="#000" stroke-width="1.6" />
<circle cx="656.8" cy="328.6" r="6.5" fill="none" stroke="#000" stroke-width="0.9"/>
<rect x="650.8" y="327.5" width="13.0" height="2.2" fill="#000"/>
<rect x="655.9" y="321.6" width="2.0" height="14.0" fill="#000"/>
<path d="M662,323.6 L674,323.6 L674,328.6 Q674,334.6 668,334.6 Q662,334.6 662,328.6 Z" fill="none" stroke="#000" stroke-width="1.4" />
<line x1="668.0" y1="323.6" x2="668.0" y2="334.6" stroke="#000" stroke-width="1.0"/>
<circle cx="677.3" cy="328.6" r="6.0" fill="none" stroke="#000" stroke-width="1.2"/>
<circle cx="677.3" cy="328.6" r="4.6" fill="none" stroke="#000" stroke-width="1.8" stroke-dasharray="1.4,1.0"/>
<circle cx="677.3" cy="328.6" r="1.6" fill="#000" stroke="#000" stroke-width="1"/>
<path d="M689,322.6 A6,6 0 1,0 689,334.6" fill="none" stroke="#000" stroke-width="1.6" />
<circle cx="688.0" cy="328.6" r="4.5" fill="none" stroke="#000" stroke-width="0.9"/>
<rect x="684.0" y="327.5" width="9.0" height="2.2" fill="#000"/>
<rect x="687.1" y="323.6" width="2.0" height="10.0" fill="#000"/>
<circle cx="697.7" cy="328.6" r="5.0" fill="none" stroke="#000" stroke-width="1.2"/>
<circle cx="697.7" cy="328.6" r="3.6" fill="none" stroke="#000" stroke-width="1.8" stroke-dasharray="1.4,1.0"/>
<circle cx="697.7" cy="328.6" r="1.6" fill="#000" stroke="#000" stroke-width="1"/>
<circle cx="707.5" cy="328.6" r="5.0" fill="none" stroke="#000" stroke-width="1.2"/>
<circle cx="707.5" cy="328.6" r="3.6" fill="none" stroke="#000" stroke-width="1.8" stroke-dasharray="1.4,1.0"/>
<circle cx="707.5" cy="328.6" r="1.6" fill="#000" stroke="#000" stroke-width="1"/>
<rect x="638.6" y="333.5" width="87.1" height="2.5" fill="#000"/>
<path d="M732,306 L738,316 M733,316 L741,316 M733,313 L741,313 M735,311 L739,311" fill="none" stroke="#000" stroke-width="1.1" />
<rect x="734.0" y="309.0" width="6.0" height="15.0" rx="0" fill="none" stroke="#000" stroke-width="1.1"/>
<rect x="735.5" y="310.0" width="3.0" height="13.0" fill="#000"/>
<rect x="733.0" y="327.0" width="8.0" height="7.0" rx="0" fill="none" stroke="#000" stroke-width="1.1"/>
<rect x="735.0" y="328.0" width="4.0" height="5.0" fill="#000"/>
<line x1="731.0" y1="328.0" x2="737.0" y2="328.0" stroke="#000" stroke-width="1"/>
<line x1="731.0" y1="331.0" x2="741.0" y2="331.0" stroke="#000" stroke-width="1"/>
<line x1="781.2" y1="247.3" x2="791.5" y2="247.3" stroke="#000" stroke-width="1.1"/>
<line x1="807.4" y1="247.3" x2="824.9" y2="247.3" stroke="#000" stroke-width="1.1"/>
<line x1="840.0" y1="247.3" x2="857.4" y2="247.3" stroke="#000" stroke-width="1.1"/>
<line x1="873.7" y1="247.3" x2="890.0" y2="247.3" stroke="#000" stroke-width="1.1"/>
<line x1="906.3" y1="247.3" x2="916.5" y2="247.3" stroke="#000" stroke-width="1.1"/>
<line x1="781.2" y1="355.5" x2="791.5" y2="355.5" stroke="#000" stroke-width="1.1"/>
<line x1="808.0" y1="355.5" x2="823.0" y2="355.5" stroke="#000" stroke-width="1.1"/>
<line x1="841.0" y1="355.5" x2="856.0" y2="355.5" stroke="#000" stroke-width="1.1"/>
<line x1="873.0" y1="355.5" x2="889.0" y2="355.5" stroke="#000" stroke-width="1.1"/>
<line x1="905.5" y1="355.5" x2="916.5" y2="355.5" stroke="#000" stroke-width="1.1"/>
<line x1="781.2" y1="247.3" x2="781.2" y2="261.3" stroke="#000" stroke-width="1.1"/>
<line x1="916.5" y1="247.3" x2="916.5" y2="261.3" stroke="#000" stroke-width="1.1"/>
<line x1="781.2" y1="277.0" x2="781.2" y2="293.8" stroke="#000" stroke-width="1.1"/>
<line x1="916.5" y1="277.0" x2="916.5" y2="293.8" stroke="#000" stroke-width="1.1"/>
<line x1="781.2" y1="308.7" x2="781.2" y2="326.6" stroke="#000" stroke-width="1.1"/>
<line x1="916.5" y1="308.7" x2="916.5" y2="326.6" stroke="#000" stroke-width="1.1"/>
<line x1="781.2" y1="343.0" x2="781.2" y2="355.5" stroke="#000" stroke-width="1.1"/>
<line x1="916.5" y1="343.0" x2="916.5" y2="355.5" stroke="#000" stroke-width="1.1"/>
<path d="M797,336.2 L797,274 Q797,269.4 801,269.4 L811,269.4 M797,336.2 L803.9,339.7" fill="none" stroke="#000" stroke-width="1.1" />
<path d="M816.8,295 L816.8,309 Q816.8,312.3 820,312.3 L840,312.3 Q843.5,312.3 842,308.5 L824,290" fill="none" stroke="#000" stroke-width="1.1" />
<line x1="902.1" y1="280.0" x2="902.1" y2="332.8" stroke="#000" stroke-width="1.1"/>
<path d="M796.4,259.5 L801,256 L814,268 L809.5,272.3 Z" fill="none" stroke="#000" stroke-width="1.3" />
<rect x="804.0" y="262.0" width="8.0" height="6.5" fill="#000"/>
<line x1="806.0" y1="259.0" x2="814.4" y2="253.1" stroke="#000" stroke-width="1.3"/>
<circle cx="814.4" cy="253.1" r="1.2" fill="none" stroke="#000" stroke-width="1"/>
<line x1="814.4" y1="253.1" x2="897.0" y2="279.9" stroke="#000" stroke-width="1"/>
<line x1="811.0" y1="272.9" x2="823.0" y2="276.0" stroke="#000" stroke-width="1"/>
<circle cx="832.0" cy="284.4" r="12.7" fill="none" stroke="#000" stroke-width="1.2"/>
<circle cx="832.0" cy="284.4" r="10.5" fill="none" stroke="#000" stroke-width="4.0"/>
<circle cx="832.0" cy="284.4" r="5.0" fill="none" stroke="#000" stroke-width="2.5"/>
<rect x="830.0" y="282.5" width="4.0" height="4.0" fill="#000"/>
<circle cx="832" cy="284.4" r="13.5" fill="none" stroke="#000" stroke-width="1.2" stroke-dasharray="2,1.5"/>
<rect x="823.0" y="290.0" width="15.0" height="8.0" fill="#000"/>
<rect x="826.0" y="274.0" width="10.0" height="3.0" fill="#000"/>
<path d="M846.5,285 Q846.5,283.5 849,283.5 L860.7,283.5 Q863,283.5 863,285 L863,306 Q863,309.7 859,309.7 L850,309.7 Q846.5,309.7 846.5,306 Z" fill="none" stroke="#000" stroke-width="2.8" />
<circle cx="854.9" cy="290.7" r="5.0" fill="none" stroke="#000" stroke-width="2.2"/>
<circle cx="854.9" cy="290.7" r="2.0" fill="none" stroke="#000" stroke-width="1.2"/>
<rect x="848.0" y="298.0" width="14.0" height="4.0" fill="#000"/>
<line x1="848.0" y1="304.5" x2="862.0" y2="304.5" stroke="#000" stroke-width="1.2"/>
<rect x="847.0" y="283.0" width="4.0" height="4.0" fill="#000"/>
<rect x="859.0" y="283.0" width="4.0" height="4.0" fill="#000"/>
<rect x="852.0" y="304.0" width="6.0" height="4.0" fill="#000"/>
<path d="M869.6,283 Q869.6,281.6 872,281.6 L883,281.6 Q887.2,281.6 887.2,284 L887.2,304 Q887.2,307.6 882,307.6 L873,307.6 Q869.6,307.6 869.6,304 Z" fill="none" stroke="#000" stroke-width="2.8" />
<circle cx="876.4" cy="289.4" r="5.5" fill="none" stroke="#000" stroke-width="2.6"/>
<circle cx="876.4" cy="289.4" r="2.5" fill="none" stroke="#000" stroke-width="1.2"/>
<rect x="870.0" y="297.0" width="14.0" height="3.0" fill="#000"/>
<rect x="871.0" y="301.0" width="12.0" height="4.0" rx="0" fill="none" stroke="#000" stroke-width="1.2"/>
<rect x="870.0" y="282.0" width="4.0" height="4.0" fill="#000"/>
<rect x="880.0" y="282.0" width="5.0" height="5.0" fill="#000"/>
<rect x="872.0" y="305.0" width="8.0" height="2.0" fill="#000"/>
<rect x="863.0" y="287.0" width="6.6" height="8.0" fill="#000"/>
<rect x="843.0" y="285.0" width="3.5" height="10.0" fill="#000"/>
<path d="M841.4,294.6 A17,17 0 0,1 867.9,278.7" fill="none" stroke="#000" stroke-width="0.9" />
<path d="M846,279 L852,277 M870,275 L878,275 L876,281" fill="none" stroke="#000" stroke-width="1.3" />
<rect x="895.4" y="279.3" width="3.8" height="21.6" fill="#000"/>
<rect x="894.0" y="282.0" width="7.0" height="16.0" rx="0" fill="none" stroke="#000" stroke-width="1.0"/>
<rect x="899.2" y="288.0" width="12.8" height="6.5" rx="0" fill="none" stroke="#000" stroke-width="1.2"/>
<line x1="903.0" y1="288.0" x2="903.0" y2="294.5" stroke="#000" stroke-width="1.0"/>
<line x1="896.0" y1="300.0" x2="896.0" y2="333.0" stroke="#000" stroke-width="1.1"/>
<path d="M863.8,258 L876.6,258 L870.2,268.3 Z" fill="none" stroke="#000" stroke-width="1.4" />
<line x1="817.6" y1="333.5" x2="879.4" y2="333.5" stroke="#000" stroke-width="1.8"/>
<line x1="803.0" y1="340.3" x2="895.0" y2="340.3" stroke="#000" stroke-width="1"/>
<rect x="838.9" y="330.7" width="3.2" height="2.1" rx="0" fill="none" stroke="#000" stroke-width="0.9"/>
<rect x="844.3" y="330.7" width="3.2" height="2.1" rx="0" fill="none" stroke="#000" stroke-width="0.9"/>
<rect x="849.7" y="330.7" width="3.2" height="2.1" rx="0" fill="none" stroke="#000" stroke-width="0.9"/>
<rect x="855.1" y="330.7" width="3.2" height="2.1" rx="0" fill="none" stroke="#000" stroke-width="0.9"/>
<rect x="860.5" y="330.7" width="3.2" height="2.1" rx="0" fill="none" stroke="#000" stroke-width="0.9"/>
<rect x="865.9" y="330.7" width="3.2" height="2.1" rx="0" fill="none" stroke="#000" stroke-width="0.9"/>
<circle cx="820.3" cy="326.6" r="4.1" fill="none" stroke="#000" stroke-width="1.2"/>
<rect x="805.9" y="321.8" width="10.3" height="11.7" fill="#000"/>
<rect x="808.0" y="324.0" width="6.0" height="3.0" fill="#fff"/>
<rect x="804.5" y="333.5" width="13.8" height="9.6" rx="0" fill="none" stroke="#000" stroke-width="1.2"/>
<rect x="806.0" y="335.0" width="11.0" height="3.0" fill="#000"/>
<rect x="809.5" y="312.9" width="3.5" height="8.9" rx="0" fill="none" stroke="#000" stroke-width="1.1"/>
<circle cx="878.1" cy="326.6" r="4.3" fill="none" stroke="#000" stroke-width="1.2"/>
<rect x="883.6" y="321.8" width="11.0" height="11.2" fill="#000"/>
<rect x="883.6" y="333.0" width="11.0" height="10.0" rx="0" fill="none" stroke="#000" stroke-width="1.2"/>
<rect x="885.0" y="335.0" width="8.0" height="5.0" fill="#000"/>
<circle cx="900.0" cy="337.6" r="4.8" fill="#000" stroke="#000" stroke-width="1"/>
<rect x="888.6" y="312.9" width="3.6" height="8.9" rx="0" fill="none" stroke="#000" stroke-width="1.1"/>
<path d="M800,313 L805,313 M800,316 L805,316 M800,319 L805,319" fill="none" stroke="#000" stroke-width="0.9" />
<path d="M895,301 L900,301 M895,304 L900,304 M895,307 L900,307" fill="none" stroke="#000" stroke-width="0.9" />
<line x1="797.0" y1="343.5" x2="925.0" y2="343.5" stroke="#000" stroke-width="0.9"/>
<path d="M865.4,180.8 L865.4,172.5 Q865.4,169.7 868,169.7 L875,169.7 Q877.5,169.7 877.5,172.5 L877.5,180.8 Z" fill="none" stroke="#000" stroke-width="1.3" />
<path d="M866.5,175 L868.5,172.5 L870.5,175 L872.5,172.5 L874.5,175 L876.5,172.5" fill="none" stroke="#000" stroke-width="1.2" />
<rect x="866.0" y="176.5" width="11.0" height="4.3" fill="#000"/>
<line x1="865.4" y1="180.8" x2="865.4" y2="207.8" stroke="#000" stroke-width="1.2"/>
<line x1="877.5" y1="180.8" x2="877.5" y2="207.8" stroke="#000" stroke-width="1.2"/>
<rect x="863.8" y="207.8" width="14.3" height="27.0" rx="0" fill="none" stroke="#000" stroke-width="1.4"/>
<rect x="864.5" y="208.5" width="13.0" height="4.5" fill="#000"/>
<rect x="866.0" y="215.0" width="10.0" height="4.0" fill="#000"/>
<rect x="864.5" y="221.0" width="13.0" height="2.5" fill="#000"/>
<rect x="866.0" y="226.0" width="10.0" height="7.0" fill="#000"/>
<rect x="868.0" y="216.0" width="3.0" height="2.0" fill="#fff"/>
<rect x="869.0" y="227.5" width="4.0" height="3.5" fill="#fff"/>
<line x1="863.8" y1="213.5" x2="878.1" y2="213.5" stroke="#000" stroke-width="1.0"/>
<rect x="859.0" y="213.0" width="5.0" height="7.0" fill="#000"/>
<rect x="865.0" y="234.8" width="12.0" height="14.2" rx="0" fill="none" stroke="#000" stroke-width="1.3"/>
<rect x="866.0" y="236.0" width="10.0" height="4.0" fill="#000"/>
<rect x="867.5" y="242.0" width="7.0" height="5.0" fill="#000"/>
<line x1="871.0" y1="234.8" x2="871.0" y2="249.0" stroke="#000" stroke-width="1.2"/>
<path d="M865.4,249 L879.7,249 L879.7,262 L871.7,268.3 L865.4,262 Z" fill="none" stroke="#000" stroke-width="1.4" />
<line x1="868.0" y1="249.5" x2="868.0" y2="263.0" stroke="#000" stroke-width="1.1"/>
<line x1="870.5" y1="249.5" x2="870.5" y2="263.0" stroke="#000" stroke-width="1.1"/>
<line x1="873.0" y1="249.5" x2="873.0" y2="263.0" stroke="#000" stroke-width="1.1"/>
<line x1="875.5" y1="249.5" x2="875.5" y2="263.0" stroke="#000" stroke-width="1.1"/>
<line x1="878.0" y1="249.5" x2="878.0" y2="263.0" stroke="#000" stroke-width="1.1"/>
<line x1="865.4" y1="262.0" x2="879.7" y2="262.0" stroke="#000" stroke-width="1.2"/>
<path d="M876,258 L882,256" fill="none" stroke="#000" stroke-width="1.2" />
<rect x="878.0" y="207.0" width="9.5" height="13.0" rx="0" fill="none" stroke="#000" stroke-width="1.2"/>
<rect x="878.5" y="210.0" width="8.5" height="7.0" fill="#000"/>
<rect x="891.8" y="145.4" width="17.1" height="17.7" rx="2" fill="none" stroke="#000" stroke-width="1.3"/>
<line x1="891.8" y1="149.0" x2="908.9" y2="149.0" stroke="#000" stroke-width="1.0"/>
<line x1="891.8" y1="151.5" x2="908.9" y2="151.5" stroke="#000" stroke-width="1.0"/>
<line x1="891.8" y1="158.0" x2="908.9" y2="158.0" stroke="#000" stroke-width="1.0"/>
<line x1="896.0" y1="151.5" x2="896.0" y2="158.0" stroke="#000" stroke-width="1.0"/>
<line x1="900.0" y1="151.5" x2="900.0" y2="158.0" stroke="#000" stroke-width="1.0"/>
<line x1="904.0" y1="151.5" x2="904.0" y2="158.0" stroke="#000" stroke-width="1.0"/>
<rect x="893.0" y="159.0" width="14.0" height="2.0" fill="#000"/>
<rect x="908.9" y="146.0" width="9.1" height="16.4" rx="0" fill="none" stroke="#000" stroke-width="1.2"/>
<path d="M910,160 L916,148 M912,161 L917,152" fill="none" stroke="#000" stroke-width="1.1" />
<rect x="909.5" y="147.0" width="2.5" height="3.0" fill="#000"/>
<path d="M920,145.4 L941,145.4 Q945.9,145.4 945.9,151 L945.9,157 Q945.9,162.4 941,162.4 L920,162.4 Z" fill="none" stroke="#000" stroke-width="1.3" />
<line x1="939.2" y1="145.4" x2="939.2" y2="162.4" stroke="#000" stroke-width="1.0"/>
<line x1="924.0" y1="145.4" x2="924.0" y2="162.4" stroke="#000" stroke-width="0.9"/>
<rect x="931.0" y="140.2" width="10.4" height="5.2" rx="0" fill="none" stroke="#000" stroke-width="1.2"/>
<path d="M886.7,183.1 L886.7,167 Q886.7,163.9 890,163.9 L915.5,163.9 L915.5,183.1 Z" fill="none" stroke="#000" stroke-width="1.3" />
<line x1="891.1" y1="163.9" x2="891.1" y2="183.1" stroke="#000" stroke-width="1.0"/>
<line x1="911.1" y1="163.9" x2="911.1" y2="183.1" stroke="#000" stroke-width="1.0"/>
<line x1="886.7" y1="169.0" x2="915.5" y2="169.0" stroke="#000" stroke-width="1.0"/>
<line x1="886.7" y1="177.9" x2="915.5" y2="177.9" stroke="#000" stroke-width="1.0"/>
<rect x="891.1" y="183.1" width="19.2" height="13.3" rx="0" fill="none" stroke="#000" stroke-width="1.3"/>
<line x1="891.1" y1="189.0" x2="910.3" y2="189.0" stroke="#000" stroke-width="1.0"/>
<rect x="897.8" y="163.9" width="8.1" height="37.1" fill="#000"/>
<rect x="899.0" y="166.0" width="5.5" height="1.6" fill="#fff"/>
<rect x="899.0" y="170.0" width="5.5" height="1.6" fill="#fff"/>
<rect x="899.0" y="174.0" width="5.5" height="1.6" fill="#fff"/>
<rect x="899.0" y="178.0" width="5.5" height="1.6" fill="#fff"/>
<rect x="899.0" y="182.0" width="5.5" height="1.6" fill="#fff"/>
<rect x="899.0" y="186.0" width="5.5" height="1.6" fill="#fff"/>
<rect x="899.0" y="190.0" width="5.5" height="1.6" fill="#fff"/>
<rect x="899.0" y="194.0" width="5.5" height="1.6" fill="#fff"/>
<rect x="899.0" y="198.0" width="5.5" height="1.6" fill="#fff"/>
<path d="M894,197 L907,197 L907,205 L914.5,205 L914.5,222 L907,222 L907,230 L894,230 L894,222 L887,222 L887,205 L894,205 Z" fill="none" stroke="#000" stroke-width="2.6" />
<rect x="887.0" y="209.0" width="4.0" height="9.0" fill="#000"/>
<rect x="910.5" y="209.0" width="4.0" height="9.0" fill="#000"/>
<rect x="897.0" y="197.0" width="7.0" height="4.0" fill="#000"/>
<rect x="897.0" y="226.0" width="7.0" height="4.0" fill="#000"/>
<rect x="896.0" y="208.0" width="9.0" height="11.0" rx="0" fill="none" stroke="#000" stroke-width="1.3"/>
<circle cx="900.5" cy="213.5" r="2.0" fill="none" stroke="#000" stroke-width="1.2"/>
<rect x="899.5" y="212.5" width="2.0" height="2.0" fill="#000"/>
<line x1="891.0" y1="205.0" x2="891.0" y2="222.0" stroke="#000" stroke-width="1.0"/>
<line x1="910.5" y1="205.0" x2="910.5" y2="222.0" stroke="#000" stroke-width="1.0"/>
<line x1="894.0" y1="201.0" x2="907.0" y2="201.0" stroke="#000" stroke-width="1.0"/>
<line x1="894.0" y1="226.0" x2="907.0" y2="226.0" stroke="#000" stroke-width="1.0"/>
<circle cx="890.0" cy="203.0" r="1.3" fill="none" stroke="#000" stroke-width="1.1"/>
<circle cx="911.0" cy="203.0" r="1.3" fill="none" stroke="#000" stroke-width="1.1"/>
<circle cx="890.0" cy="224.0" r="1.3" fill="none" stroke="#000" stroke-width="1.1"/>
<circle cx="911.0" cy="224.0" r="1.3" fill="none" stroke="#000" stroke-width="1.1"/>
<rect x="896.0" y="230.0" width="9.0" height="3.0" fill="#000"/>
<rect x="916.5" y="208.0" width="7.5" height="10.0" fill="#000"/>
<line x1="857.4" y1="177.2" x2="886.7" y2="177.2" stroke="#000" stroke-width="1.0"/>
<line x1="915.5" y1="177.2" x2="954.6" y2="177.2" stroke="#000" stroke-width="1.0"/>
<line x1="857.4" y1="186.1" x2="954.6" y2="186.1" stroke="#000" stroke-width="1.0"/>
<line x1="915.5" y1="165.3" x2="954.6" y2="148.0" stroke="#000" stroke-width="1.0"/>
<line x1="915.5" y1="169.8" x2="954.6" y2="154.6" stroke="#000" stroke-width="1.0"/>
<line x1="945.7" y1="186.3" x2="953.3" y2="194.7" stroke="#000" stroke-width="1.0"/>
<rect x="924.0" y="203.1" width="11.0" height="20.4" fill="#000"/>
<rect x="927.0" y="200.0" width="8.0" height="3.1" fill="#000"/>
<rect x="925.0" y="223.5" width="9.0" height="2.5" fill="#000"/>
<rect x="915.0" y="207.4" width="9.0" height="10.4" fill="#000"/>
<rect x="935.0" y="204.0" width="20.0" height="18.0" fill="#000"/>
<rect x="940.0" y="209.0" width="4.0" height="7.0" fill="#fff"/>
<rect x="947.0" y="209.0" width="5.0" height="7.0" fill="#fff"/>
<line x1="955.0" y1="204.0" x2="1290.0" y2="204.0" stroke="#000" stroke-width="0.9"/>
<line x1="955.0" y1="206.6" x2="1290.0" y2="206.6" stroke="#000" stroke-width="1.6"/>
<line x1="955" y1="205.2" x2="1290" y2="205.2" stroke="#000" stroke-width="0.9" stroke-dasharray="1,2"/>
<line x1="955.0" y1="219.0" x2="1290.0" y2="219.0" stroke="#000" stroke-width="1.6"/>
<line x1="955" y1="221.2" x2="1290" y2="221.2" stroke="#000" stroke-width="1" stroke-dasharray="1,2.5"/>
<line x1="955.0" y1="222.6" x2="1290.0" y2="222.6" stroke="#000" stroke-width="0.9"/>
<path d="M956.0,207.6 L956.0,218.2 M956.0,207.6 L960.4,218.2 L960.4,207.6 M963.4,207.6 L963.4,218.2 M963.4,207.6 L967.8,218.2 L967.8,207.6 M970.8,207.6 L970.8,218.2 M970.8,207.6 L975.2,218.2 L975.2,207.6 M978.2,207.6 L978.2,218.2 M978.2,207.6 L982.6,218.2 L982.6,207.6 M985.6,207.6 L985.6,218.2 M985.6,207.6 L990.0,218.2 L990.0,207.6 M993.0,207.6 L993.0,218.2 M993.0,207.6 L997.4,218.2 L997.4,207.6 M1000.4,207.6 L1000.4,218.2 M1000.4,207.6 L1004.8,218.2 L1004.8,207.6 M1007.8,207.6 L1007.8,218.2 M1007.8,207.6 L1012.2,218.2 L1012.2,207.6 M1015.2,207.6 L1015.2,218.2 M1015.2,207.6 L1019.6,218.2 L1019.6,207.6 M1022.6,207.6 L1022.6,218.2 M1022.6,207.6 L1027.0,218.2 L1027.0,207.6 M1030.0,207.6 L1030.0,218.2 M1030.0,207.6 L1034.4,218.2 L1034.4,207.6 M1037.4,207.6 L1037.4,218.2 M1037.4,207.6 L1041.8,218.2 L1041.8,207.6 M1044.8,207.6 L1044.8,218.2 M1044.8,207.6 L1049.2,218.2 L1049.2,207.6 M1052.2,207.6 L1052.2,218.2 M1052.2,207.6 L1056.6,218.2 L1056.6,207.6 M1059.6,207.6 L1059.6,218.2 M1059.6,207.6 L1064.0,218.2 L1064.0,207.6 M1067.0,207.6 L1067.0,218.2 M1067.0,207.6 L1071.4,218.2 L1071.4,207.6 M1074.4,207.6 L1074.4,218.2 M1074.4,207.6 L1078.8,218.2 L1078.8,207.6 M1081.8,207.6 L1081.8,218.2 M1081.8,207.6 L1086.2,218.2 L1086.2,207.6 M1089.2,207.6 L1089.2,218.2 M1089.2,207.6 L1093.6,218.2 L1093.6,207.6 M1096.6,207.6 L1096.6,218.2 M1096.6,207.6 L1101.0,218.2 L1101.0,207.6 M1104.0,207.6 L1104.0,218.2 M1104.0,207.6 L1108.4,218.2 L1108.4,207.6 M1111.4,207.6 L1111.4,218.2 M1111.4,207.6 L1115.8,218.2 L1115.8,207.6 M1118.8,207.6 L1118.8,218.2 M1118.8,207.6 L1123.2,218.2 L1123.2,207.6 M1126.2,207.6 L1126.2,218.2 M1126.2,207.6 L1130.6,218.2 L1130.6,207.6 M1133.6,207.6 L1133.6,218.2 M1133.6,207.6 L1138.0,218.2 L1138.0,207.6 M1141.0,207.6 L1141.0,218.2 M1141.0,207.6 L1145.4,218.2 L1145.4,207.6 M1148.4,207.6 L1148.4,218.2 M1148.4,207.6 L1152.8,218.2 L1152.8,207.6 M1155.8,207.6 L1155.8,218.2 M1155.8,207.6 L1160.2,218.2 L1160.2,207.6 M1163.2,207.6 L1163.2,218.2 M1163.2,207.6 L1167.6,218.2 L1167.6,207.6 M1170.6,207.6 L1170.6,218.2 M1170.6,207.6 L1175.0,218.2 L1175.0,207.6 M1178.0,207.6 L1178.0,218.2 M1178.0,207.6 L1182.4,218.2 L1182.4,207.6 M1185.4,207.6 L1185.4,218.2 M1185.4,207.6 L1189.8,218.2 L1189.8,207.6 M1192.8,207.6 L1192.8,218.2 M1192.8,207.6 L1197.2,218.2 L1197.2,207.6 M1200.2,207.6 L1200.2,218.2 M1200.2,207.6 L1204.6,218.2 L1204.6,207.6 M1207.6,207.6 L1207.6,218.2 M1207.6,207.6 L1212.0,218.2 L1212.0,207.6 M1215.0,207.6 L1215.0,218.2 M1215.0,207.6 L1219.4,218.2 L1219.4,207.6 M1222.4,207.6 L1222.4,218.2 M1222.4,207.6 L1226.8,218.2 L1226.8,207.6 M1229.8,207.6 L1229.8,218.2 M1229.8,207.6 L1234.2,218.2 L1234.2,207.6 M1237.2,207.6 L1237.2,218.2 M1237.2,207.6 L1241.6,218.2 L1241.6,207.6 M1244.6,207.6 L1244.6,218.2 M1244.6,207.6 L1249.0,218.2 L1249.0,207.6 M1252.0,207.6 L1252.0,218.2 M1252.0,207.6 L1256.4,218.2 L1256.4,207.6 M1259.4,207.6 L1259.4,218.2 M1259.4,207.6 L1263.8,218.2 L1263.8,207.6 M1266.8,207.6 L1266.8,218.2 M1266.8,207.6 L1271.2,218.2 L1271.2,207.6 M1274.2,207.6 L1274.2,218.2 M1274.2,207.6 L1278.6,218.2 L1278.6,207.6 M1281.6,207.6 L1281.6,218.2 M1281.6,207.6 L1286.0,218.2 L1286.0,207.6" fill="none" stroke="#000" stroke-width="1.1" />
<path d="M955.3,222.6 L955.3,224.5 L983.9,224.5 L983.9,222.6" fill="none" stroke="#000" stroke-width="1.0" />
<path d="M987.9,222.6 L987.9,224.5 L1015,224.5 L1015,222.6" fill="none" stroke="#000" stroke-width="1.0" />
<path d="M1019,222.6 L1019,224.5 L1044.6,224.5 L1044.6,222.6" fill="none" stroke="#000" stroke-width="1.0" />
<path d="M1048.6,222.6 L1048.6,224.5 L1072.7,224.5 L1072.7,222.6" fill="none" stroke="#000" stroke-width="1.0" />
<path d="M1076.7,222.6 L1076.7,224.5 L1102.3,224.5 L1102.3,222.6" fill="none" stroke="#000" stroke-width="1.0" />
<path d="M1106.3,222.6 L1106.3,224.5 L1130.5,224.5 L1130.5,222.6" fill="none" stroke="#000" stroke-width="1.0" />
<path d="M1134.5,222.6 L1134.5,224.5 L1160,224.5 L1160,222.6" fill="none" stroke="#000" stroke-width="1.0" />
<path d="M1164,222.6 L1164,224.5 L1191,224.5 L1191,222.6" fill="none" stroke="#000" stroke-width="1.0" />
<path d="M1195,222.6 L1195,224.5 L1220,224.5 L1220,222.6" fill="none" stroke="#000" stroke-width="1.0" />
<path d="M1224,222.6 L1224,224.5 L1250,224.5 L1250,222.6" fill="none" stroke="#000" stroke-width="1.0" />
<line x1="953.3" y1="204.0" x2="953.3" y2="222.0" stroke="#000" stroke-width="1.4"/>
<line x1="985.9" y1="204.0" x2="985.9" y2="222.0" stroke="#000" stroke-width="1.4"/>
<line x1="1017.0" y1="204.0" x2="1017.0" y2="222.0" stroke="#000" stroke-width="1.4"/>
<line x1="1046.6" y1="204.0" x2="1046.6" y2="222.0" stroke="#000" stroke-width="1.4"/>
<line x1="1074.7" y1="204.0" x2="1074.7" y2="222.0" stroke="#000" stroke-width="1.4"/>
<line x1="1104.3" y1="204.0" x2="1104.3" y2="222.0" stroke="#000" stroke-width="1.4"/>
<line x1="1132.5" y1="204.0" x2="1132.5" y2="222.0" stroke="#000" stroke-width="1.4"/>
<line x1="1162.0" y1="204.0" x2="1162.0" y2="222.0" stroke="#000" stroke-width="1.4"/>
<line x1="1193.0" y1="204.0" x2="1193.0" y2="222.0" stroke="#000" stroke-width="1.4"/>
<line x1="1222.0" y1="204.0" x2="1222.0" y2="222.0" stroke="#000" stroke-width="1.4"/>
<line x1="1252.0" y1="204.0" x2="1252.0" y2="222.0" stroke="#000" stroke-width="1.4"/>
<rect x="960.5" y="226.3" width="18.0" height="10.3" rx="3" fill="none" stroke="#000" stroke-width="1.1"/>
<line x1="966.0" y1="226.5" x2="966.0" y2="236.4" stroke="#000" stroke-width="1.0"/>
<line x1="973.0" y1="226.5" x2="973.0" y2="236.4" stroke="#000" stroke-width="1.0"/>
<rect x="967.9" y="228.5" width="3.0" height="6.0" fill="#000"/>
<line x1="963.0" y1="227.0" x2="963.0" y2="236.2" stroke="#000" stroke-width="0.7"/>
<rect x="992.8" y="226.3" width="18.0" height="10.3" rx="3" fill="none" stroke="#000" stroke-width="1.1"/>
<line x1="998.3" y1="226.5" x2="998.3" y2="236.4" stroke="#000" stroke-width="1.0"/>
<line x1="1005.3" y1="226.5" x2="1005.3" y2="236.4" stroke="#000" stroke-width="1.0"/>
<rect x="1000.2" y="228.5" width="3.0" height="6.0" fill="#000"/>
<line x1="995.3" y1="227.0" x2="995.3" y2="236.2" stroke="#000" stroke-width="0.7"/>
<rect x="1022.3" y="226.3" width="18.0" height="10.3" rx="3" fill="none" stroke="#000" stroke-width="1.1"/>
<line x1="1027.8" y1="226.5" x2="1027.8" y2="236.4" stroke="#000" stroke-width="1.0"/>
<line x1="1034.8" y1="226.5" x2="1034.8" y2="236.4" stroke="#000" stroke-width="1.0"/>
<rect x="1029.7" y="228.5" width="3.0" height="6.0" fill="#000"/>
<line x1="1024.8" y1="227.0" x2="1024.8" y2="236.2" stroke="#000" stroke-width="0.7"/>
<rect x="1051.8" y="226.3" width="18.0" height="10.3" rx="3" fill="none" stroke="#000" stroke-width="1.1"/>
<line x1="1057.3" y1="226.5" x2="1057.3" y2="236.4" stroke="#000" stroke-width="1.0"/>
<line x1="1064.3" y1="226.5" x2="1064.3" y2="236.4" stroke="#000" stroke-width="1.0"/>
<rect x="1059.2" y="228.5" width="3.0" height="6.0" fill="#000"/>
<line x1="1054.3" y1="227.0" x2="1054.3" y2="236.2" stroke="#000" stroke-width="0.7"/>
<rect x="1080.3" y="226.3" width="18.0" height="10.3" rx="3" fill="none" stroke="#000" stroke-width="1.1"/>
<line x1="1085.8" y1="226.5" x2="1085.8" y2="236.4" stroke="#000" stroke-width="1.0"/>
<line x1="1092.8" y1="226.5" x2="1092.8" y2="236.4" stroke="#000" stroke-width="1.0"/>
<rect x="1087.7" y="228.5" width="3.0" height="6.0" fill="#000"/>
<line x1="1082.8" y1="227.0" x2="1082.8" y2="236.2" stroke="#000" stroke-width="0.7"/>
<rect x="1108.9" y="226.3" width="18.0" height="10.3" rx="3" fill="none" stroke="#000" stroke-width="1.1"/>
<line x1="1114.4" y1="226.5" x2="1114.4" y2="236.4" stroke="#000" stroke-width="1.0"/>
<line x1="1121.4" y1="226.5" x2="1121.4" y2="236.4" stroke="#000" stroke-width="1.0"/>
<rect x="1116.3" y="228.5" width="3.0" height="6.0" fill="#000"/>
<line x1="1111.4" y1="227.0" x2="1111.4" y2="236.2" stroke="#000" stroke-width="0.7"/>
<rect x="1139.3" y="226.3" width="18.0" height="10.3" rx="3" fill="none" stroke="#000" stroke-width="1.1"/>
<line x1="1144.8" y1="226.5" x2="1144.8" y2="236.4" stroke="#000" stroke-width="1.0"/>
<line x1="1151.8" y1="226.5" x2="1151.8" y2="236.4" stroke="#000" stroke-width="1.0"/>
<rect x="1146.7" y="228.5" width="3.0" height="6.0" fill="#000"/>
<line x1="1141.8" y1="227.0" x2="1141.8" y2="236.2" stroke="#000" stroke-width="0.7"/>
<rect x="1168.8" y="226.3" width="18.0" height="10.3" rx="3" fill="none" stroke="#000" stroke-width="1.1"/>
<line x1="1174.3" y1="226.5" x2="1174.3" y2="236.4" stroke="#000" stroke-width="1.0"/>
<line x1="1181.3" y1="226.5" x2="1181.3" y2="236.4" stroke="#000" stroke-width="1.0"/>
<rect x="1176.2" y="228.5" width="3.0" height="6.0" fill="#000"/>
<line x1="1171.3" y1="227.0" x2="1171.3" y2="236.2" stroke="#000" stroke-width="0.7"/>
<rect x="1197.3" y="226.3" width="18.0" height="10.3" rx="3" fill="none" stroke="#000" stroke-width="1.1"/>
<line x1="1202.8" y1="226.5" x2="1202.8" y2="236.4" stroke="#000" stroke-width="1.0"/>
<line x1="1209.8" y1="226.5" x2="1209.8" y2="236.4" stroke="#000" stroke-width="1.0"/>
<rect x="1204.7" y="228.5" width="3.0" height="6.0" fill="#000"/>
<line x1="1199.8" y1="227.0" x2="1199.8" y2="236.2" stroke="#000" stroke-width="0.7"/>
<rect x="1226.3" y="226.3" width="18.0" height="10.3" rx="3" fill="none" stroke="#000" stroke-width="1.1"/>
<line x1="1231.8" y1="226.5" x2="1231.8" y2="236.4" stroke="#000" stroke-width="1.0"/>
<line x1="1238.8" y1="226.5" x2="1238.8" y2="236.4" stroke="#000" stroke-width="1.0"/>
<rect x="1233.7" y="228.5" width="3.0" height="6.0" fill="#000"/>
<line x1="1228.8" y1="227.0" x2="1228.8" y2="236.2" stroke="#000" stroke-width="0.7"/>
<rect x="984.5" y="204.0" width="3.0" height="36.0" rx="0" fill="none" stroke="#000" stroke-width="1.2"/>
<rect x="985.0" y="222.0" width="2.0" height="16.0" fill="#000"/>
<rect x="982.0" y="237.4" width="8.4" height="7.6" rx="0" fill="none" stroke="#000" stroke-width="1.2"/>
<rect x="981.8" y="245.0" width="8.6" height="44.7" rx="0" fill="none" stroke="#000" stroke-width="1.1"/>
<line x1="981.8" y1="262.0" x2="990.4" y2="262.0" stroke="#000" stroke-width="0.9"/>
<line x1="981.8" y1="281.0" x2="990.4" y2="281.0" stroke="#000" stroke-width="0.9"/>
<rect x="984.0" y="283.0" width="4.0" height="5.0" rx="0" fill="none" stroke="#000" stroke-width="0.9"/>
<line x1="1104.0" y1="239.2" x2="1116.0" y2="239.2" stroke="#000" stroke-width="1.6"/>
<line x1="1107.3" y1="226.0" x2="1107.3" y2="300.0" stroke="#000" stroke-width="1.0"/>
<line x1="1113.5" y1="239.0" x2="1113.5" y2="310.0" stroke="#000" stroke-width="1.0"/>
<path d="M1107.3,226 Q1107.3,222 1112,222" fill="none" stroke="#000" stroke-width="1.0" />
<rect x="1105.0" y="288.5" width="10.5" height="15.9" rx="0" fill="none" stroke="#000" stroke-width="1.1"/>
<rect x="1107.0" y="304.4" width="6.0" height="12.6" rx="0" fill="none" stroke="#000" stroke-width="1.1"/>
<line x1="954.6" y1="147.8" x2="1035.8" y2="147.8" stroke="#000" stroke-width="1.2"/>
<line x1="954.6" y1="153.4" x2="962.2" y2="153.4" stroke="#000" stroke-width="1.0"/>
<line x1="954.6" y1="147.8" x2="954.6" y2="204.0" stroke="#000" stroke-width="0.9"/>
<line x1="962.2" y1="153.4" x2="962.2" y2="204.0" stroke="#000" stroke-width="1.3"/>
<line x1="1027.4" y1="148.3" x2="1027.4" y2="204.0" stroke="#000" stroke-width="1.0"/>
<line x1="1035.4" y1="148.3" x2="1035.4" y2="204.0" stroke="#000" stroke-width="1.0"/>
<rect x="971.0" y="148.3" width="9.0" height="5.0" rx="0" fill="none" stroke="#000" stroke-width="1.1"/>
<rect x="1026.5" y="148.3" width="8.9" height="5.0" rx="0" fill="none" stroke="#000" stroke-width="1.1"/>
<rect x="954.6" y="180.3" width="7.6" height="5.0" rx="0" fill="none" stroke="#000" stroke-width="1.0"/>
<line x1="962.2" y1="226.0" x2="962.2" y2="293.0" stroke="#000" stroke-width="1.0"/>
<line x1="1027.4" y1="226.0" x2="1027.4" y2="290.0" stroke="#000" stroke-width="1.0"/>
<line x1="1035.4" y1="226.0" x2="1035.4" y2="290.0" stroke="#000" stroke-width="1.0"/>
<line x1="953.3" y1="238.0" x2="953.3" y2="246.0" stroke="#000" stroke-width="1.0"/>
<rect x="1263.7" y="75.5" width="21.1" height="11.0" rx="0" fill="none" stroke="#000" stroke-width="1.2"/>
<line x1="1273.0" y1="75.5" x2="1273.0" y2="86.5" stroke="#000" stroke-width="1"/>
<circle cx="1279.0" cy="81.0" r="3.0" fill="none" stroke="#000" stroke-width="1.1"/>
<circle cx="1279.0" cy="81.0" r="1.2" fill="none" stroke="#000" stroke-width="0.9"/>
<rect x="1266.0" y="86.5" width="16.0" height="2.5" fill="#000"/>
<rect x="1268.0" y="89.0" width="12.0" height="5.0" rx="0" fill="none" stroke="#000" stroke-width="1.2"/>
<rect x="1271.0" y="90.0" width="6.0" height="4.0" fill="#000"/>
<line x1="1209.2" y1="94.2" x2="1345.9" y2="94.2" stroke="#000" stroke-width="1.2"/>
<line x1="1209.2" y1="96.0" x2="1345.9" y2="96.0" stroke="#000" stroke-width="0.8"/>
<line x1="1209.2" y1="126.3" x2="1345.9" y2="126.3" stroke="#000" stroke-width="1.1"/>
<line x1="1209.2" y1="128.0" x2="1345.9" y2="128.0" stroke="#000" stroke-width="0.7"/>
<line x1="1209.2" y1="94.2" x2="1209.2" y2="158.0" stroke="#000" stroke-width="1.1"/>
<line x1="1341.2" y1="94.2" x2="1341.2" y2="158.0" stroke="#000" stroke-width="1.1"/>
<line x1="1345.9" y1="94.2" x2="1345.9" y2="158.0" stroke="#000" stroke-width="1.1"/>
<line x1="1348.2" y1="94.2" x2="1348.2" y2="300.0" stroke="#000" stroke-width="1.0"/>
<line x1="1345.9" y1="158.0" x2="1345.9" y2="300.0" stroke="#000" stroke-width="1.1"/>
<rect x="1231.2" y="97.5" width="79.8" height="2.5" rx="0" fill="none" stroke="#000" stroke-width="1.1"/>
<line x1="1231.2" y1="97.5" x2="1231.2" y2="158.0" stroke="#000" stroke-width="1.1"/>
<line x1="1235.4" y1="100.0" x2="1235.4" y2="138.7" stroke="#000" stroke-width="1.0"/>
<line x1="1311.0" y1="97.5" x2="1311.0" y2="158.0" stroke="#000" stroke-width="1.1"/>
<line x1="1306.8" y1="100.0" x2="1306.8" y2="138.7" stroke="#000" stroke-width="1.0"/>
<line x1="1235.4" y1="138.7" x2="1306.8" y2="138.7" stroke="#000" stroke-width="1.0"/>
<path d="M1235.4,138.7 L1264.2,180.0" fill="none" stroke="#000" stroke-width="1.2" />
<path d="M1306.8,138.7 L1280.7,180.0" fill="none" stroke="#000" stroke-width="1.2" />
<line x1="1237.0" y1="136.8" x2="1271.0" y2="136.8" stroke="#000" stroke-width="1.6"/>
<line x1="1273.8" y1="119.5" x2="1304.0" y2="119.5" stroke="#000" stroke-width="1.5"/>
<line x1="1273.8" y1="121.0" x2="1304.0" y2="121.0" stroke="#000" stroke-width="0.8"/>
<line x1="1269.7" y1="97.5" x2="1269.7" y2="180.0" stroke="#000" stroke-width="1.0"/>
<line x1="1276.6" y1="97.5" x2="1276.6" y2="180.0" stroke="#000" stroke-width="1.0"/>
<line x1="1273.2" y1="100.0" x2="1273.2" y2="135.0" stroke="#000" stroke-width="0.8"/>
<rect x="1243.0" y="98.0" width="3.0" height="3.0" rx="0" fill="none" stroke="#000" stroke-width="0.9"/>
<rect x="1296.0" y="98.0" width="3.0" height="3.0" rx="0" fill="none" stroke="#000" stroke-width="0.9"/>
<path d="M1293,108 L1292,112" fill="none" stroke="#000" stroke-width="1.0" />
<line x1="1264.2" y1="180.0" x2="1264.2" y2="203.5" stroke="#000" stroke-width="1.2"/>
<line x1="1280.7" y1="180.0" x2="1280.7" y2="203.5" stroke="#000" stroke-width="1.2"/>
<path d="M1272,150 C1284,152 1284,158 1272,160 C1262,162 1262,168 1272,170 C1283,172 1283,178 1272,180 C1262,182 1262,188 1272,190 C1282,192 1282,198 1272,200" fill="none" stroke="#000" stroke-width="1.1" />
<path d="M1268,152 L1277,156 M1267,163 L1277,167 M1268,173 L1277,177 M1267,184 L1277,188 M1268,194 L1277,198" fill="none" stroke="#000" stroke-width="0.9" />
<line x1="1272.5" y1="145.0" x2="1272.5" y2="203.0" stroke="#000" stroke-width="1.0"/>
<rect x="1264.0" y="202.3" width="16.2" height="5.8" rx="0" fill="none" stroke="#000" stroke-width="1.2"/>
<line x1="1209.3" y1="158.1" x2="1348.8" y2="158.1" stroke="#000" stroke-width="1.0"/>
<line x1="1209.3" y1="162.8" x2="1348.8" y2="162.8" stroke="#000" stroke-width="1.8"/>
<rect x="1210.5" y="155.8" width="4.6" height="7.0" rx="0" fill="none" stroke="#000" stroke-width="1.2"/>
<rect x="1230.2" y="155.8" width="4.7" height="7.0" rx="0" fill="none" stroke="#000" stroke-width="1.2"/>
<rect x="1308.1" y="155.8" width="4.7" height="7.0" rx="0" fill="none" stroke="#000" stroke-width="1.2"/>
<rect x="1338.4" y="155.8" width="4.6" height="7.0" rx="0" fill="none" stroke="#000" stroke-width="1.2"/>
<path d="M1208,163 L1208,176 Q1212.7,180 1217.4,176 L1217.4,163" fill="none" stroke="#000" stroke-width="1.1" />
<path d="M1336.5,163 L1336.5,176 Q1341.0,180 1345.5,176 L1345.5,163" fill="none" stroke="#000" stroke-width="1.1" />
<line x1="1209.0" y1="163.0" x2="1209.0" y2="305.0" stroke="#000" stroke-width="1.1"/>
<line x1="1215.0" y1="176.0" x2="1215.0" y2="305.0" stroke="#000" stroke-width="1.1"/>
<line x1="1340.5" y1="176.0" x2="1340.5" y2="305.0" stroke="#000" stroke-width="1.1"/>
<line x1="1344.5" y1="176.0" x2="1344.5" y2="305.0" stroke="#000" stroke-width="1.0"/>
<line x1="1216.3" y1="191.9" x2="1243.0" y2="164.0" stroke="#000" stroke-width="1.1"/>
<line x1="1218.0" y1="193.5" x2="1246.0" y2="164.0" stroke="#000" stroke-width="0.9"/>
<line x1="1216.3" y1="178.0" x2="1216.3" y2="192.0" stroke="#000" stroke-width="1.0"/>
<line x1="1309.3" y1="164.0" x2="1337.2" y2="191.9" stroke="#000" stroke-width="1.1"/>
<line x1="1306.5" y1="164.0" x2="1335.5" y2="193.5" stroke="#000" stroke-width="0.9"/>
<line x1="1337.2" y1="178.0" x2="1337.2" y2="192.0" stroke="#000" stroke-width="1.0"/>
<line x1="1345.9" y1="93.2" x2="1423.3" y2="192.0" stroke="#000" stroke-width="1.1"/>
<line x1="1348.2" y1="93.2" x2="1425.3" y2="192.0" stroke="#000" stroke-width="0.8"/>
<line x1="1346.8" y1="128.2" x2="1419.4" y2="221.4" stroke="#000" stroke-width="1.1"/>
<line x1="1423.3" y1="192.0" x2="1423.3" y2="260.2" stroke="#000" stroke-width="1.1"/>
<line x1="1425.3" y1="192.0" x2="1425.3" y2="222.0" stroke="#000" stroke-width="0.8"/>
<line x1="1346.3" y1="164.3" x2="1432.0" y2="289.7" stroke="#000" stroke-width="1.1"/>
<line x1="1349.8" y1="164.3" x2="1435.5" y2="289.7" stroke="#000" stroke-width="0.8"/>
<line x1="1357.5" y1="164.3" x2="1444.0" y2="289.7" stroke="#000" stroke-width="1.1"/>
<line x1="1352.8" y1="173.8" x2="1364.6" y2="173.8" stroke="#000" stroke-width="1.1"/>
<line x1="1354.3" y1="176.0" x2="1366.1" y2="176.0" stroke="#000" stroke-width="0.8"/>
<line x1="1364.5" y1="191.0" x2="1376.4" y2="191.0" stroke="#000" stroke-width="1.1"/>
<line x1="1366.0" y1="193.2" x2="1377.9" y2="193.2" stroke="#000" stroke-width="0.8"/>
<line x1="1376.3" y1="208.2" x2="1388.3" y2="208.2" stroke="#000" stroke-width="1.1"/>
<line x1="1377.8" y1="210.4" x2="1389.8" y2="210.4" stroke="#000" stroke-width="0.8"/>
<line x1="1388.1" y1="225.4" x2="1400.1" y2="225.4" stroke="#000" stroke-width="1.1"/>
<line x1="1389.6" y1="227.6" x2="1401.6" y2="227.6" stroke="#000" stroke-width="0.8"/>
<line x1="1399.8" y1="242.6" x2="1412.0" y2="242.6" stroke="#000" stroke-width="1.1"/>
<line x1="1401.3" y1="244.8" x2="1413.5" y2="244.8" stroke="#000" stroke-width="0.8"/>
<line x1="1411.6" y1="259.8" x2="1423.9" y2="259.8" stroke="#000" stroke-width="1.1"/>
<line x1="1413.1" y1="262.0" x2="1425.4" y2="262.0" stroke="#000" stroke-width="0.8"/>
<line x1="1423.3" y1="277.0" x2="1435.7" y2="277.0" stroke="#000" stroke-width="1.1"/>
<line x1="1424.8" y1="279.2" x2="1437.2" y2="279.2" stroke="#000" stroke-width="0.8"/>
<line x1="1430.0" y1="290.0" x2="1449.0" y2="290.0" stroke="#000" stroke-width="1.3"/>
<circle cx="1378.0" cy="220.0" r="2.5" fill="none" stroke="#000" stroke-width="1.0"/>
<rect x="1281.4" y="202.0" width="6.6" height="23.0" fill="#000"/>
<rect x="1289.5" y="197.7" width="4.3" height="31.1" fill="#000"/>
<rect x="1293.8" y="198.3" width="13.2" height="30.5" rx="0" fill="none" stroke="#000" stroke-width="1.2"/>
<rect x="1296.0" y="201.0" width="8.0" height="6.0" rx="0" fill="none" stroke="#000" stroke-width="1.1"/>
<rect x="1297.0" y="215.0" width="7.0" height="7.0" fill="#000"/>
<line x1="1293.8" y1="209.0" x2="1307.0" y2="209.0" stroke="#000" stroke-width="1.0"/>
<path d="M1307,225 L1302,225 Q1298.5,225 1298.5,229 L1298.5,238 Q1298.5,242 1302,242 L1307,242" fill="none" stroke="#000" stroke-width="2.0" />
<rect x="1307.0" y="195.3" width="28.7" height="63.0" rx="0" fill="none" stroke="#000" stroke-width="1.3"/>
<rect x="1308.2" y="195.1" width="26.1" height="10.9" rx="0" fill="none" stroke="#000" stroke-width="1.2"/>
<line x1="1321.0" y1="195.0" x2="1321.0" y2="258.0" stroke="#000" stroke-width="0.9"/>
<line x1="1290.0" y1="212.5" x2="1352.0" y2="212.5" stroke="#000" stroke-width="2.2"/>
<line x1="1307.0" y1="209.5" x2="1350.0" y2="209.5" stroke="#000" stroke-width="1.0"/>
<line x1="1307.0" y1="215.5" x2="1345.0" y2="215.5" stroke="#000" stroke-width="1.0"/>
<path d="M1340,209.5 Q1352.8,209.5 1352.8,212.5 Q1352.8,215.5 1340,215.5" fill="none" stroke="#000" stroke-width="1.2" />
<circle cx="1312.0" cy="212.5" r="1.4" fill="#000" stroke="#000" stroke-width="1.0"/>
<circle cx="1318.0" cy="212.5" r="1.4" fill="#000" stroke="#000" stroke-width="1.0"/>
<circle cx="1324.0" cy="212.5" r="1.4" fill="#000" stroke="#000" stroke-width="1.0"/>
<circle cx="1330.0" cy="212.5" r="1.4" fill="#000" stroke="#000" stroke-width="1.0"/>
<circle cx="1336.0" cy="212.5" r="1.4" fill="#000" stroke="#000" stroke-width="1.0"/>
<circle cx="1342.0" cy="212.5" r="1.4" fill="#000" stroke="#000" stroke-width="1.0"/>
<rect x="1316.6" y="219.3" width="9.4" height="8.5" rx="0" fill="none" stroke="#000" stroke-width="1.6"/>
<rect x="1318.6" y="221.3" width="5.4" height="4.5" rx="0" fill="none" stroke="#000" stroke-width="1.0"/>
<line x1="1307.0" y1="236.0" x2="1290.0" y2="236.0" stroke="#000" stroke-width="0.9"/>
<line x1="1307.0" y1="245.0" x2="1291.0" y2="245.0" stroke="#000" stroke-width="0.9"/>
<rect x="1309.0" y="240.0" width="25.0" height="12.0" rx="0" fill="none" stroke="#000" stroke-width="1.0"/>
<line x1="1309.0" y1="246.0" x2="1334.0" y2="246.0" stroke="#000" stroke-width="0.8"/>
<rect x="1310.0" y="252.0" width="23.0" height="8.0" rx="0" fill="none" stroke="#000" stroke-width="1.1"/>
<rect x="1334.0" y="233.5" width="21.0" height="14.3" rx="0" fill="none" stroke="#000" stroke-width="1.1"/>
<line x1="1334.0" y1="240.2" x2="1355.0" y2="240.2" stroke="#000" stroke-width="1.8"/>
<line x1="1343.0" y1="233.5" x2="1343.0" y2="247.8" stroke="#000" stroke-width="0.9"/>
<rect x="1337.0" y="252.0" width="4.0" height="20.0" fill="#000"/>
<rect x="1341.0" y="252.0" width="3.0" height="20.0" fill="#fff"/>
<line x1="1342.5" y1="252.0" x2="1342.5" y2="272.0" stroke="#000" stroke-width="1.0"/>
<rect x="1355.0" y="221.5" width="78.8" height="41.9" rx="9" fill="none" stroke="#000" stroke-width="1.0"/>
<rect x="1359.0" y="229.5" width="20.7" height="30.2" rx="0" fill="none" stroke="#000" stroke-width="1.1"/>
<rect x="1362.0" y="222.0" width="2.0" height="8.0" rx="0" fill="none" stroke="#000" stroke-width="0.8"/>
<line x1="1359.0" y1="222.0" x2="1359.0" y2="262.0" stroke="#000" stroke-width="1.0"/>
<line x1="1345" y1="243.4" x2="1440" y2="243.4" stroke="#000" stroke-width="0.8" stroke-dasharray="8,3"/>
<rect x="1362.0" y="262.5" width="6.0" height="8.2" rx="0" fill="none" stroke="#000" stroke-width="1.0"/>
<rect x="1401.0" y="262.5" width="6.0" height="8.2" rx="0" fill="none" stroke="#000" stroke-width="1.0"/>
<line x1="1355.0" y1="262.5" x2="1420.0" y2="262.5" stroke="#000" stroke-width="1.2"/>
<path d="M954.3,300 L954.3,253 Q954.3,244.8 962.3,244.8 L1458,244.8 Q1466.5,244.8 1466.5,253.3 L1466.5,303.3" fill="none" stroke="#000" stroke-width="1.1" />
<path d="M956.5,300 L956.5,254 Q956.5,247 963.5,247 L1457,247 Q1464.5,247 1464.5,255 L1464.5,292" fill="none" stroke="#000" stroke-width="0.9" />
<line x1="962.0" y1="264.6" x2="1027.0" y2="264.6" stroke="#000" stroke-width="1.0"/>
<line x1="962.0" y1="266.2" x2="1027.0" y2="266.2" stroke="#000" stroke-width="0.7"/>
<line x1="954.3" y1="271.8" x2="1467.0" y2="271.8" stroke="#000" stroke-width="1.8"/>
<line x1="954.3" y1="269.6" x2="1467.0" y2="269.6" stroke="#000" stroke-width="0.8"/>
<line x1="954.3" y1="281.7" x2="1467.0" y2="281.7" stroke="#000" stroke-width="0.7"/>
<line x1="954.3" y1="292.5" x2="1469.0" y2="292.5" stroke="#000" stroke-width="1.0"/>
<line x1="954.3" y1="291.0" x2="1469.0" y2="291.0" stroke="#000" stroke-width="0.7"/>
<line x1="954.3" y1="303.3" x2="1469.0" y2="303.3" stroke="#000" stroke-width="1.1"/>
<line x1="1469.0" y1="292.0" x2="1469.0" y2="303.3" stroke="#000" stroke-width="1.0"/>
<line x1="962.8" y1="246.0" x2="962.8" y2="292.5" stroke="#000" stroke-width="1.0"/>
<line x1="1017.0" y1="246.0" x2="1017.0" y2="292.5" stroke="#000" stroke-width="1.0"/>
<line x1="1081.7" y1="246.0" x2="1081.7" y2="292.5" stroke="#000" stroke-width="1.0"/>
<line x1="1113.5" y1="246.0" x2="1113.5" y2="292.5" stroke="#000" stroke-width="1.0"/>
<line x1="1276.6" y1="246.0" x2="1276.6" y2="292.5" stroke="#000" stroke-width="1.0"/>
<line x1="1407.7" y1="246.0" x2="1407.7" y2="292.5" stroke="#000" stroke-width="1.0"/>
<line x1="1019.5" y1="246.0" x2="1019.5" y2="292.5" stroke="#000" stroke-width="0.8"/>
<line x1="1084.0" y1="246.0" x2="1084.0" y2="292.5" stroke="#000" stroke-width="0.8"/>
<rect x="1063.6" y="272.7" width="8.6" height="16.9" rx="0" fill="none" stroke="#000" stroke-width="1.1"/>
<rect x="1066.1" y="284.0" width="3.6" height="5.6" rx="0" fill="none" stroke="#000" stroke-width="0.9"/>
<rect x="1226.9" y="272.7" width="9.5" height="16.9" rx="0" fill="none" stroke="#000" stroke-width="1.1"/>
<rect x="1229.4" y="284.0" width="4.5" height="5.6" rx="0" fill="none" stroke="#000" stroke-width="0.9"/>
<rect x="1307.2" y="272.7" width="9.6" height="16.9" rx="0" fill="none" stroke="#000" stroke-width="1.1"/>
<rect x="1309.7" y="284.0" width="4.6" height="5.6" rx="0" fill="none" stroke="#000" stroke-width="0.9"/>
<rect x="1399.2" y="272.7" width="8.5" height="16.9" rx="0" fill="none" stroke="#000" stroke-width="1.1"/>
<rect x="1401.7" y="284.0" width="3.5" height="5.6" rx="0" fill="none" stroke="#000" stroke-width="0.9"/>
<path d="M954.8,291.7 L956.8,289.4 L963.4,289.4 L965.4,291.7 Z" fill="none" stroke="#000" stroke-width="1.0" />
<path d="M1025.6,291.7 L1027.6,289.4 L1035.3,289.4 L1037.3,291.7 Z" fill="none" stroke="#000" stroke-width="1.0" />
<path d="M1077.4,291.7 L1079.4,289.4 L1084.0,289.4 L1086.0,291.7 Z" fill="none" stroke="#000" stroke-width="1.0" />
<rect x="1079.7" y="293.0" width="7.0" height="4.0" rx="0" fill="none" stroke="#000" stroke-width="1.1"/>
<rect x="1078.7" y="297.0" width="9.0" height="3.0" rx="0" fill="none" stroke="#000" stroke-width="1.1"/>
<rect x="1080.2" y="300.0" width="6.0" height="3.0" rx="0" fill="none" stroke="#000" stroke-width="1.1"/>
<rect x="1207.5" y="277.0" width="9.0" height="11.0" rx="0" fill="none" stroke="#000" stroke-width="1.1"/>
<rect x="1210.5" y="279.0" width="3.0" height="9.0" fill="#000"/>
<rect x="1208.5" y="288.0" width="7.0" height="5.0" rx="0" fill="none" stroke="#000" stroke-width="1.1"/>
<rect x="1207.5" y="294.0" width="9.0" height="4.0" rx="0" fill="none" stroke="#000" stroke-width="1.1"/>
<rect x="1209.0" y="298.0" width="6.0" height="5.0" rx="0" fill="none" stroke="#000" stroke-width="1.1"/>
<rect x="1336.0" y="277.0" width="9.0" height="11.0" rx="0" fill="none" stroke="#000" stroke-width="1.1"/>
<rect x="1339.0" y="279.0" width="3.0" height="9.0" fill="#000"/>
<rect x="1337.0" y="288.0" width="7.0" height="5.0" rx="0" fill="none" stroke="#000" stroke-width="1.1"/>
<rect x="1336.0" y="294.0" width="9.0" height="4.0" rx="0" fill="none" stroke="#000" stroke-width="1.1"/>
<rect x="1337.5" y="298.0" width="6.0" height="5.0" rx="0" fill="none" stroke="#000" stroke-width="1.1"/>
<line x1="954.8" y1="303.3" x2="954.8" y2="346.0" stroke="#000" stroke-width="1.2"/>
<line x1="966.4" y1="303.3" x2="966.4" y2="346.0" stroke="#000" stroke-width="1.2"/>
<path d="M952.3,347.9 L968.9,347.9 Q969.9,347 968.9,346.2 L952.3,346.2 Q951.3,347 952.3,347.9 Z" fill="#000" stroke="#000" stroke-width="0.8" />
<line x1="953.3" y1="302.9" x2="967.9" y2="302.9" stroke="#000" stroke-width="1.3"/>
<rect x="956.5" y="318.3" width="8.2" height="8.1" rx="0" fill="none" stroke="#000" stroke-width="0.9"/>
<line x1="955.3" y1="318.3" x2="955.3" y2="326.4" stroke="#000" stroke-width="1.6"/>
<line x1="965.9" y1="318.3" x2="965.9" y2="326.4" stroke="#000" stroke-width="1.6"/>
<circle cx="958.8" cy="320.0" r="0.4" fill="none" stroke="#000" stroke-width="0.6"/>
<circle cx="961.8" cy="320.0" r="0.4" fill="none" stroke="#000" stroke-width="0.6"/>
<circle cx="962.4" cy="320.0" r="0.4" fill="none" stroke="#000" stroke-width="0.6"/>
<circle cx="958.8" cy="323.5" r="0.4" fill="none" stroke="#000" stroke-width="0.6"/>
<circle cx="961.8" cy="323.5" r="0.4" fill="none" stroke="#000" stroke-width="0.6"/>
<circle cx="962.4" cy="323.5" r="0.4" fill="none" stroke="#000" stroke-width="0.6"/>
<line x1="1077.4" y1="303.3" x2="1077.4" y2="346.0" stroke="#000" stroke-width="1.2"/>
<line x1="1089.0" y1="303.3" x2="1089.0" y2="346.0" stroke="#000" stroke-width="1.2"/>
<path d="M1074.9,347.9 L1091.5,347.9 Q1092.5,347 1091.5,346.2 L1074.9,346.2 Q1073.9,347 1074.9,347.9 Z" fill="#000" stroke="#000" stroke-width="0.8" />
<line x1="1075.9" y1="302.9" x2="1090.5" y2="302.9" stroke="#000" stroke-width="1.3"/>
<rect x="1079.1" y="318.3" width="8.2" height="8.1" rx="0" fill="none" stroke="#000" stroke-width="0.9"/>
<line x1="1077.9" y1="318.3" x2="1077.9" y2="326.4" stroke="#000" stroke-width="1.6"/>
<line x1="1088.5" y1="318.3" x2="1088.5" y2="326.4" stroke="#000" stroke-width="1.6"/>
<circle cx="1081.4" cy="320.0" r="0.4" fill="none" stroke="#000" stroke-width="0.6"/>
<circle cx="1084.4" cy="320.0" r="0.4" fill="none" stroke="#000" stroke-width="0.6"/>
<circle cx="1085.0" cy="320.0" r="0.4" fill="none" stroke="#000" stroke-width="0.6"/>
<circle cx="1081.4" cy="323.5" r="0.4" fill="none" stroke="#000" stroke-width="0.6"/>
<circle cx="1084.4" cy="323.5" r="0.4" fill="none" stroke="#000" stroke-width="0.6"/>
<circle cx="1085.0" cy="323.5" r="0.4" fill="none" stroke="#000" stroke-width="0.6"/>
<line x1="1205.7" y1="303.3" x2="1205.7" y2="346.0" stroke="#000" stroke-width="1.2"/>
<line x1="1217.4" y1="303.3" x2="1217.4" y2="346.0" stroke="#000" stroke-width="1.2"/>
<path d="M1203.2,347.9 L1219.9,347.9 Q1220.9,347 1219.9,346.2 L1203.2,346.2 Q1202.2,347 1203.2,347.9 Z" fill="#000" stroke="#000" stroke-width="0.8" />
<line x1="1204.2" y1="302.9" x2="1218.9" y2="302.9" stroke="#000" stroke-width="1.3"/>
<rect x="1207.4" y="318.3" width="8.3" height="8.1" rx="0" fill="none" stroke="#000" stroke-width="0.9"/>
<line x1="1206.2" y1="318.3" x2="1206.2" y2="326.4" stroke="#000" stroke-width="1.6"/>
<line x1="1216.9" y1="318.3" x2="1216.9" y2="326.4" stroke="#000" stroke-width="1.6"/>
<circle cx="1209.7" cy="320.0" r="0.4" fill="none" stroke="#000" stroke-width="0.6"/>
<circle cx="1212.7" cy="320.0" r="0.4" fill="none" stroke="#000" stroke-width="0.6"/>
<circle cx="1213.4" cy="320.0" r="0.4" fill="none" stroke="#000" stroke-width="0.6"/>
<circle cx="1209.7" cy="323.5" r="0.4" fill="none" stroke="#000" stroke-width="0.6"/>
<circle cx="1212.7" cy="323.5" r="0.4" fill="none" stroke="#000" stroke-width="0.6"/>
<circle cx="1213.4" cy="323.5" r="0.4" fill="none" stroke="#000" stroke-width="0.6"/>
<line x1="1334.7" y1="303.3" x2="1334.7" y2="346.0" stroke="#000" stroke-width="1.2"/>
<line x1="1346.4" y1="303.3" x2="1346.4" y2="346.0" stroke="#000" stroke-width="1.2"/>
<path d="M1332.2,347.9 L1348.9,347.9 Q1349.9,347 1348.9,346.2 L1332.2,346.2 Q1331.2,347 1332.2,347.9 Z" fill="#000" stroke="#000" stroke-width="0.8" />
<line x1="1333.2" y1="302.9" x2="1347.9" y2="302.9" stroke="#000" stroke-width="1.3"/>
<rect x="1336.4" y="318.3" width="8.3" height="8.1" rx="0" fill="none" stroke="#000" stroke-width="0.9"/>
<line x1="1335.2" y1="318.3" x2="1335.2" y2="326.4" stroke="#000" stroke-width="1.6"/>
<line x1="1345.9" y1="318.3" x2="1345.9" y2="326.4" stroke="#000" stroke-width="1.6"/>
<circle cx="1338.7" cy="320.0" r="0.4" fill="none" stroke="#000" stroke-width="0.6"/>
<circle cx="1341.7" cy="320.0" r="0.4" fill="none" stroke="#000" stroke-width="0.6"/>
<circle cx="1342.4" cy="320.0" r="0.4" fill="none" stroke="#000" stroke-width="0.6"/>
<circle cx="1338.7" cy="323.5" r="0.4" fill="none" stroke="#000" stroke-width="0.6"/>
<circle cx="1341.7" cy="323.5" r="0.4" fill="none" stroke="#000" stroke-width="0.6"/>
<circle cx="1342.4" cy="323.5" r="0.4" fill="none" stroke="#000" stroke-width="0.6"/>
<line x1="1457.4" y1="303.3" x2="1457.4" y2="346.0" stroke="#000" stroke-width="1.2"/>
<line x1="1469.0" y1="303.3" x2="1469.0" y2="346.0" stroke="#000" stroke-width="1.2"/>
<path d="M1454.9,347.9 L1471.5,347.9 Q1472.5,347 1471.5,346.2 L1454.9,346.2 Q1453.9,347 1454.9,347.9 Z" fill="#000" stroke="#000" stroke-width="0.8" />
<line x1="1455.9" y1="302.9" x2="1470.5" y2="302.9" stroke="#000" stroke-width="1.3"/>
<rect x="1459.1" y="318.3" width="8.2" height="8.1" rx="0" fill="none" stroke="#000" stroke-width="0.9"/>
<line x1="1457.9" y1="318.3" x2="1457.9" y2="326.4" stroke="#000" stroke-width="1.6"/>
<line x1="1468.5" y1="318.3" x2="1468.5" y2="326.4" stroke="#000" stroke-width="1.6"/>
<circle cx="1461.4" cy="320.0" r="0.4" fill="none" stroke="#000" stroke-width="0.6"/>
<circle cx="1464.4" cy="320.0" r="0.4" fill="none" stroke="#000" stroke-width="0.6"/>
<circle cx="1465.0" cy="320.0" r="0.4" fill="none" stroke="#000" stroke-width="0.6"/>
<circle cx="1461.4" cy="323.5" r="0.4" fill="none" stroke="#000" stroke-width="0.6"/>
<circle cx="1464.4" cy="323.5" r="0.4" fill="none" stroke="#000" stroke-width="0.6"/>
<circle cx="1465.0" cy="323.5" r="0.4" fill="none" stroke="#000" stroke-width="0.6"/>
<line x1="966.4" y1="325.4" x2="988.6" y2="303.3" stroke="#000" stroke-width="1.2"/>
<line x1="966.4" y1="319.4" x2="982.6" y2="303.3" stroke="#000" stroke-width="0.6"/>
<line x1="982.6" y1="303.3" x2="988.6" y2="303.3" stroke="#000" stroke-width="1.4"/>
<line x1="1077.4" y1="325.4" x2="1055.0" y2="303.3" stroke="#000" stroke-width="1.2"/>
<line x1="1077.4" y1="319.4" x2="1061.0" y2="303.3" stroke="#000" stroke-width="0.6"/>
<line x1="1061.0" y1="303.3" x2="1055.0" y2="303.3" stroke="#000" stroke-width="1.4"/>
<line x1="1089.0" y1="325.4" x2="1106.0" y2="303.3" stroke="#000" stroke-width="1.2"/>
<line x1="1089.0" y1="319.4" x2="1100.0" y2="303.3" stroke="#000" stroke-width="0.6"/>
<line x1="1100.0" y1="303.3" x2="1106.0" y2="303.3" stroke="#000" stroke-width="1.4"/>
<line x1="1205.7" y1="325.4" x2="1183.2" y2="303.3" stroke="#000" stroke-width="1.2"/>
<line x1="1205.7" y1="319.4" x2="1189.2" y2="303.3" stroke="#000" stroke-width="0.6"/>
<line x1="1189.2" y1="303.3" x2="1183.2" y2="303.3" stroke="#000" stroke-width="1.4"/>
<line x1="1217.4" y1="325.4" x2="1238.5" y2="303.3" stroke="#000" stroke-width="1.2"/>
<line x1="1217.4" y1="319.4" x2="1232.5" y2="303.3" stroke="#000" stroke-width="0.6"/>
<line x1="1232.5" y1="303.3" x2="1238.5" y2="303.3" stroke="#000" stroke-width="1.4"/>
<line x1="1334.7" y1="325.4" x2="1313.6" y2="303.3" stroke="#000" stroke-width="1.2"/>
<line x1="1334.7" y1="319.4" x2="1319.6" y2="303.3" stroke="#000" stroke-width="0.6"/>
<line x1="1319.6" y1="303.3" x2="1313.6" y2="303.3" stroke="#000" stroke-width="1.4"/>
<line x1="1346.4" y1="325.4" x2="1368.6" y2="303.3" stroke="#000" stroke-width="1.2"/>
<line x1="1346.4" y1="319.4" x2="1362.6" y2="303.3" stroke="#000" stroke-width="0.6"/>
<line x1="1362.6" y1="303.3" x2="1368.6" y2="303.3" stroke="#000" stroke-width="1.4"/>
<line x1="1457.4" y1="325.4" x2="1435.2" y2="303.3" stroke="#000" stroke-width="1.2"/>
<line x1="1457.4" y1="319.4" x2="1441.2" y2="303.3" stroke="#000" stroke-width="0.6"/>
<line x1="1441.2" y1="303.3" x2="1435.2" y2="303.3" stroke="#000" stroke-width="1.4"/>
<line x1="952.6" y1="346.0" x2="952.6" y2="353.0" stroke="#000" stroke-width="1.1"/>
<line x1="963.3" y1="346.0" x2="963.3" y2="355.0" stroke="#000" stroke-width="1.1"/>
<circle cx="952.6" cy="352.5" r="1.2" fill="none" stroke="#000" stroke-width="1.0"/>
<circle cx="963.3" cy="354.0" r="1.2" fill="none" stroke="#000" stroke-width="1.0"/>
<rect x="1124.0" y="264.2" width="76.0" height="82.5" rx="0" fill="none" stroke="#000" stroke-width="1.1"/>
<line x1="1127.0" y1="264.2" x2="1127.0" y2="346.7" stroke="#000" stroke-width="0.8"/>
<line x1="1197.0" y1="264.2" x2="1197.0" y2="346.7" stroke="#000" stroke-width="0.8"/>
<path d="M1120.8,346.7 L1124.0,343.5 L1200.0,343.5 L1203.3,346.7 Z" fill="none" stroke="#000" stroke-width="1.1" />
<line x1="1124.0" y1="291.7" x2="1200.0" y2="291.7" stroke="#000" stroke-width="1.1"/>
<line x1="1124.0" y1="294.0" x2="1200.0" y2="294.0" stroke="#000" stroke-width="0.8"/>
<line x1="1171.5" y1="290.0" x2="1171.5" y2="343.0" stroke="#000" stroke-width="1.1"/>
<line x1="1174.0" y1="290.0" x2="1174.0" y2="343.0" stroke="#000" stroke-width="0.8"/>
<rect x="1141.0" y="323.4" width="29.5" height="18.0" rx="3" fill="none" stroke="#000" stroke-width="1.1"/>
<line x1="1148.0" y1="323.4" x2="1148.0" y2="341.4" stroke="#000" stroke-width="1.0"/>
<line x1="1151.0" y1="323.4" x2="1151.0" y2="341.4" stroke="#000" stroke-width="1.0"/>
<path d="M1141,325 Q1135,328 1137.7,338 L1141,341" fill="none" stroke="#000" stroke-width="1.0" />
<path d="M1148,298.4 Q1136,298.4 1136,308 L1136,322 M1148,302 Q1140,302 1140,309 L1140,322" fill="none" stroke="#000" stroke-width="1.2" />
<rect x="1132.4" y="306.5" width="8.6" height="14.8" rx="0" fill="none" stroke="#000" stroke-width="1.0"/>
<rect x="1133.5" y="313.0" width="2.5" height="5.0" fill="#000"/>
<line x1="1132.4" y1="311.0" x2="1141.0" y2="311.0" stroke="#000" stroke-width="0.9"/>
<rect x="1144.0" y="296.0" width="6.0" height="10.0" rx="0" fill="none" stroke="#000" stroke-width="1.0"/>
<rect x="1163.0" y="291.7" width="6.4" height="23.3" rx="2" fill="none" stroke="#000" stroke-width="1.0"/>
<path d="M1139,237.9 L1152,237.9 L1149,243.4 L1142,243.4 Z" fill="#000" stroke="#000" stroke-width="1.2" />
<rect x="1135.8" y="243.4" width="22.0" height="15.1" rx="0" fill="none" stroke="#000" stroke-width="1.3"/>
<line x1="1139.0" y1="243.4" x2="1139.0" y2="258.5" stroke="#000" stroke-width="1.1"/>
<line x1="1142.0" y1="243.4" x2="1142.0" y2="258.5" stroke="#000" stroke-width="1.1"/>
<line x1="1146.0" y1="243.4" x2="1146.0" y2="258.5" stroke="#000" stroke-width="1.1"/>
<line x1="1150.0" y1="243.4" x2="1150.0" y2="258.5" stroke="#000" stroke-width="1.1"/>
<line x1="1154.0" y1="243.4" x2="1154.0" y2="258.5" stroke="#000" stroke-width="1.1"/>
<rect x="1143.0" y="246.0" width="7.0" height="10.0" fill="#000"/>
<rect x="1157.8" y="244.2" width="30.2" height="12.9" rx="3" fill="none" stroke="#000" stroke-width="1.1"/>
<line x1="1166.0" y1="244.2" x2="1166.0" y2="257.1" stroke="#000" stroke-width="1.0"/>
<line x1="1169.0" y1="244.2" x2="1169.0" y2="257.1" stroke="#000" stroke-width="0.8"/>
<rect x="1133.0" y="258.5" width="30.3" height="35.8" rx="0" fill="none" stroke="#000" stroke-width="1.3"/>
<line x1="1133.0" y1="263.0" x2="1163.3" y2="263.0" stroke="#000" stroke-width="1.0"/>
<line x1="1133.0" y1="267.0" x2="1163.3" y2="267.0" stroke="#000" stroke-width="1.0"/>
<line x1="1133.0" y1="271.0" x2="1163.3" y2="271.0" stroke="#000" stroke-width="1.0"/>
<line x1="1133.0" y1="275.0" x2="1163.3" y2="275.0" stroke="#000" stroke-width="1.0"/>
<line x1="1133.0" y1="279.0" x2="1163.3" y2="279.0" stroke="#000" stroke-width="1.0"/>
<line x1="1133.0" y1="283.0" x2="1163.3" y2="283.0" stroke="#000" stroke-width="1.0"/>
<line x1="1133.0" y1="287.0" x2="1163.3" y2="287.0" stroke="#000" stroke-width="1.0"/>
<line x1="1133.0" y1="291.0" x2="1163.3" y2="291.0" stroke="#000" stroke-width="1.0"/>
<rect x="1136.0" y="262.0" width="2.5" height="32.0" fill="#000"/>
<rect x="1153.0" y="270.0" width="5.0" height="10.0" fill="#000"/>
<rect x="1146.0" y="284.0" width="8.0" height="4.0" fill="#000"/>
<line x1="1142.0" y1="258.5" x2="1142.0" y2="294.0" stroke="#000" stroke-width="0.9"/>
<line x1="1152.0" y1="258.5" x2="1152.0" y2="294.0" stroke="#000" stroke-width="0.9"/>
<line x1="1158.0" y1="258.5" x2="1158.0" y2="294.0" stroke="#000" stroke-width="0.9"/>
<line x1="1148.0" y1="258.5" x2="1148.0" y2="294.0" stroke="#000" stroke-width="1.1"/>
<rect x="1163.3" y="266.0" width="6.7" height="26.0" rx="0" fill="none" stroke="#000" stroke-width="1.1"/>
<rect x="1164.5" y="270.0" width="4.0" height="10.0" fill="#000"/>
<rect x="1168.8" y="275.0" width="30.2" height="13.8" rx="0" fill="none" stroke="#000" stroke-width="1.1"/>
<line x1="1172" y1="284" x2="1196" y2="284" stroke="#000" stroke-width="1" stroke-dasharray="2,1.5"/>
<rect x="1176.0" y="272.0" width="6.0" height="4.0" rx="0" fill="none" stroke="#000" stroke-width="1.0"/>
<line x1="1124.0" y1="264.2" x2="1200.0" y2="264.2" stroke="#000" stroke-width="1.0"/>
</svg></body></html>
